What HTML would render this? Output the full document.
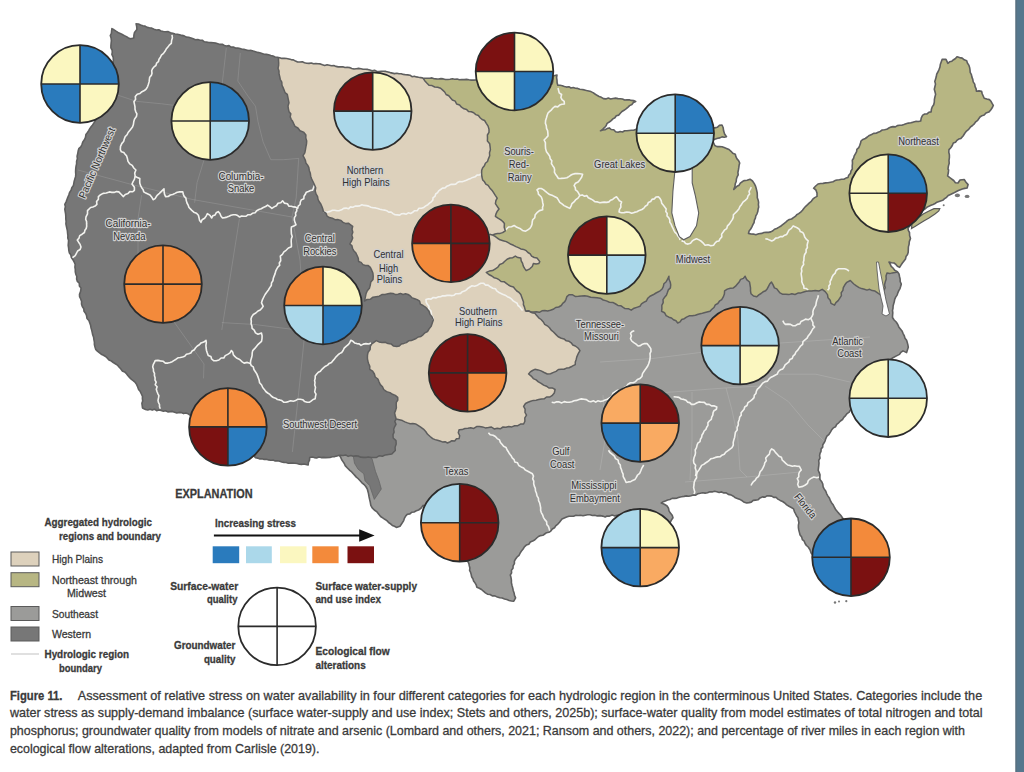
<!DOCTYPE html><html><head><meta charset="utf-8"><style>
html,body{margin:0;padding:0;background:#fff;width:1024px;height:772px;overflow:hidden}
svg{display:block}
.lb{font-family:"Liberation Sans",sans-serif;font-size:10.4px;fill:#303030;stroke:#d0d0d0;stroke-width:2.4px;paint-order:stroke;stroke-linejoin:round;text-anchor:middle}
.lg{font-family:"Liberation Sans",sans-serif;fill:#3a3a3a;stroke:#3a3a3a;stroke-width:0.3px}
.b{font-weight:bold}
</style></head><body>
<svg width="1024" height="772" viewBox="0 0 1024 772">
<defs><clipPath id="us"><path d="M111.9,28.6 L114.0,29.8 L116.0,31.2 L118.0,32.5 L120.2,33.4 L122.3,34.5 L124.4,35.6 L126.5,36.6 L128.4,37.9 L130.6,38.8 L133.8,38.0 L133.9,35.2 L134.5,32.5 L136.9,29.4 L136.7,26.6 L136.1,23.9 L138.5,24.0 L140.6,25.0 L142.8,25.7 L145.1,26.1 L147.1,27.4 L149.4,27.8 L151.8,28.1 L154.0,29.2 L156.3,30.0 L158.8,29.7 L161.0,31.0 L163.4,31.5 L165.7,31.8 L168.2,31.6 L170.5,32.7 L172.8,33.3 L175.0,34.0 L177.4,34.2 L179.7,34.7 L181.9,35.4 L184.2,35.9 L186.3,37.1 L188.7,37.2 L191.0,37.9 L193.2,38.7 L195.3,39.7 L197.8,39.5 L200.0,40.3 L202.3,40.2 L204.3,41.8 L206.6,42.1 L208.8,42.5 L211.1,42.6 L213.4,42.7 L215.6,43.1 L217.8,43.7 L220.0,44.4 L222.3,44.3 L224.4,45.5 L226.6,46.0 L229.0,45.6 L231.0,47.1 L233.3,47.1 L235.5,48.1 L237.8,48.0 L240.0,48.5 L242.1,49.3 L244.4,49.4 L246.6,50.1 L248.8,50.5 L251.1,50.4 L253.3,51.1 L255.5,51.7 L257.6,52.4 L259.8,52.8 L262.0,53.5 L264.2,54.2 L266.4,54.4 L268.6,54.8 L270.8,55.5 L273.0,56.0 L275.1,57.0 L277.4,57.3 L279.7,57.7 L281.9,58.4 L284.3,58.2 L286.6,58.5 L288.9,59.0 L291.1,59.6 L293.4,59.9 L295.5,61.1 L297.6,62.0 L300.0,62.0 L302.3,61.8 L304.5,62.8 L306.7,63.3 L309.0,63.4 L311.3,63.0 L313.5,63.8 L315.8,63.6 L318.0,63.8 L320.3,63.9 L322.5,64.8 L324.7,65.5 L327.1,64.8 L329.3,65.2 L331.5,65.7 L333.8,65.6 L336.0,66.4 L338.2,66.9 L340.5,66.9 L342.8,66.7 L345.0,67.5 L347.3,67.2 L349.6,67.6 L351.8,68.4 L354.0,69.0 L356.3,68.7 L358.6,68.4 L360.9,68.8 L363.1,69.3 L365.4,69.2 L367.7,69.4 L369.9,70.0 L372.1,70.7 L374.5,70.3 L376.6,71.3 L378.9,71.5 L381.2,71.2 L383.5,71.2 L385.8,71.4 L388.0,72.0 L390.2,72.6 L392.3,73.1 L394.5,73.6 L396.8,73.2 L399.0,73.8 L401.2,73.7 L403.4,74.4 L405.5,74.8 L407.8,74.9 L410.0,75.2 L412.0,76.7 L414.3,76.3 L416.4,76.9 L418.6,77.3 L420.8,77.6 L423.0,78.0 L425.2,78.2 L427.5,78.2 L429.8,78.3 L432.0,77.9 L434.2,78.7 L436.5,78.9 L438.7,79.0 L441.0,78.6 L443.3,78.9 L445.5,79.5 L447.7,79.5 L450.0,79.3 L452.4,78.8 L454.7,79.2 L457.1,79.1 L459.4,79.8 L461.8,79.5 L464.2,79.6 L466.6,79.4 L468.9,79.8 L471.3,80.1 L473.6,80.1 L476.0,80.0 L478.3,79.8 L480.5,80.1 L482.8,80.5 L485.1,80.0 L487.3,81.1 L489.6,80.2 L491.9,81.1 L494.2,80.6 L496.4,81.7 L498.7,81.6 L501.0,81.1 L503.2,81.6 L505.4,82.1 L507.7,82.3 L510.0,82.0 L512.3,82.4 L514.7,82.5 L517.0,82.8 L519.3,83.2 L521.7,82.8 L524.0,83.1 L526.3,83.5 L528.7,83.3 L531.0,83.2 L533.3,83.8 L535.7,83.7 L538.0,84.3 L540.3,84.5 L542.6,84.8 L545.0,84.5 L547.3,83.9 L549.6,83.6 L552.0,84.0 L552.8,81.4 L552.9,78.7 L553.0,76.0 L557.0,75.0 L556.6,77.6 L557.0,80.2 L557.1,82.8 L557.8,85.3 L560.1,85.3 L562.3,85.7 L564.4,86.5 L566.5,87.1 L568.9,86.7 L570.9,88.0 L573.3,87.5 L575.4,88.2 L577.7,88.4 L579.8,89.2 L582.1,89.5 L584.3,89.9 L586.5,90.5 L588.7,91.0 L590.9,91.6 L593.0,92.6 L595.0,94.0 L597.0,95.3 L599.1,96.5 L601.4,97.3 L603.4,98.6 L605.8,98.9 L608.3,98.1 L610.7,99.0 L613.1,98.5 L615.6,98.1 L618.0,98.6 L620.2,98.8 L622.5,99.0 L624.6,100.0 L626.9,99.9 L629.2,99.8 L631.3,100.4 L633.6,100.6 L635.7,101.5 L633.4,102.5 L631.9,104.5 L629.6,105.6 L627.8,107.3 L626.0,108.9 L624.0,110.3 L622.0,111.5 L620.3,113.2 L618.8,115.1 L616.3,115.7 L614.9,117.8 L612.9,118.9 L611.2,120.6 L609.3,122.0 L607.1,123.4 L606.1,125.8 L604.4,127.7 L602.6,129.4 L600.5,130.8 L602.7,130.0 L605.0,129.7 L607.1,128.6 L609.3,127.9 L611.2,129.5 L613.8,129.7 L615.6,131.7 L618.0,132.3 L620.2,131.5 L622.5,132.0 L624.6,130.8 L626.9,130.8 L629.1,130.5 L631.3,130.2 L633.6,130.3 L635.7,129.4 L637.9,128.9 L640.2,129.0 L642.2,127.7 L644.6,128.3 L646.7,127.4 L649.0,127.0 L651.3,127.2 L653.3,126.0 L655.6,125.9 L657.8,125.5 L660.0,125.0 L662.3,124.5 L664.6,124.1 L666.9,124.2 L669.2,123.8 L671.6,124.0 L673.8,123.5 L676.1,122.9 L678.5,123.4 L680.8,123.4 L683.1,122.8 L685.4,122.2 L687.7,122.0 L690.0,122.0 L692.1,123.1 L694.5,123.0 L696.7,123.9 L699.1,123.6 L701.2,125.0 L703.4,125.7 L705.8,125.5 L708.1,126.1 L710.2,127.0 L712.4,127.9 L714.8,127.9 L717.3,127.3 L719.4,125.4 L722.0,125.0 L723.2,127.8 L723.6,130.8 L724.6,134.0 L726.5,136.7 L724.3,137.2 L722.0,136.9 L719.9,137.9 L717.7,138.2 L714.7,139.2 L712.0,141.0 L713.7,143.1 L714.8,145.5 L717.0,146.6 L719.5,146.6 L722.0,146.7 L724.2,147.5 L726.5,148.4 L729.0,149.5 L731.0,151.3 L732.8,153.3 L735.3,154.3 L735.9,156.7 L737.0,158.9 L738.7,160.8 L739.7,163.0 L739.1,165.3 L738.8,167.7 L738.4,170.0 L737.9,172.4 L738.2,174.8 L737.1,176.9 L736.4,179.1 L736.2,181.5 L735.3,183.6 L734.9,186.6 L733.8,189.4 L735.4,187.9 L737.0,186.3 L739.1,185.2 L740.3,183.2 L742.1,181.8 L744.0,180.6 L747.1,180.2 L750.0,179.2 L752.5,181.0 L754.3,183.6 L755.4,185.8 L756.1,188.1 L756.7,190.5 L757.2,192.8 L757.3,195.3 L757.3,197.7 L758.1,199.9 L758.6,202.3 L758.4,204.7 L758.7,207.0 L758.1,209.3 L757.8,211.6 L757.0,213.8 L755.8,215.8 L755.4,218.1 L754.4,220.2 L754.1,222.5 L752.9,224.6 L751.9,226.8 L750.7,229.0 L749.1,231.0 L748.5,233.4 L750.9,234.0 L753.4,234.1 L755.8,234.8 L758.7,233.8 L761.7,233.4 L763.9,232.5 L766.1,232.2 L768.5,232.4 L770.8,231.9 L772.9,230.8 L774.5,229.2 L776.7,228.5 L778.6,227.4 L780.6,226.3 L782.3,224.9 L784.0,223.6 L785.8,222.2 L787.4,220.6 L789.3,219.5 L791.6,219.0 L793.4,217.7 L795.3,216.4 L796.7,214.7 L798.7,213.6 L800.7,212.1 L802.5,210.3 L804.0,208.2 L805.7,206.3 L807.6,204.6 L809.4,202.9 L811.3,201.3 L812.8,199.2 L814.7,197.6 L817.0,196.4 L817.0,193.1 L815.9,190.0 L813.6,188.2 L815.7,186.0 L818.0,184.0 L820.5,183.5 L823.0,183.4 L825.5,182.9 L828.0,182.8 L830.5,182.2 L833.0,181.8 L835.0,180.6 L837.1,180.0 L839.4,179.7 L841.5,179.2 L843.9,179.3 L845.9,178.1 L848.0,177.5 L848.7,175.2 L850.5,173.4 L851.0,171.0 L852.3,169.0 L852.2,166.1 L852.5,163.2 L852.3,160.3 L853.6,158.3 L854.2,155.9 L855.4,153.8 L856.6,151.7 L856.9,149.3 L858.8,147.6 L859.7,145.5 L860.5,143.3 L861.0,141.0 L862.9,139.4 L865.3,138.5 L867.3,137.0 L869.3,135.4 L871.6,134.5 L873.6,133.4 L876.1,133.3 L878.1,132.2 L880.2,131.4 L882.2,130.0 L884.5,129.7 L886.8,129.3 L888.8,128.0 L890.9,127.1 L893.0,126.6 L895.4,126.9 L897.3,125.6 L899.5,125.3 L901.8,125.3 L903.9,124.6 L906.0,123.8 L908.4,123.1 L910.9,122.7 L913.3,122.1 L915.7,121.4 L918.3,121.5 L920.7,121.0 L921.3,117.9 L922.7,115.1 L924.7,114.0 L927.0,113.9 L928.8,112.3 L931.1,111.9 L931.4,109.3 L932.2,106.9 L933.7,104.7 L934.3,102.2 L934.4,99.5 L934.9,97.0 L935.6,94.4 L935.0,91.8 L934.3,89.2 L934.9,86.7 L935.5,84.1 L934.8,81.4 L935.6,78.9 L936.3,76.6 L936.7,74.2 L937.9,72.0 L938.9,69.8 L939.9,67.3 L940.3,64.5 L941.2,62.0 L942.1,59.4 L946.0,59.4 L947.9,63.3 L949.6,61.8 L951.9,61.2 L953.6,59.7 L955.5,58.5 L957.0,56.8 L959.6,57.6 L962.2,58.1 L964.2,59.8 L966.7,60.7 L967.4,63.0 L968.8,65.1 L969.6,67.4 L970.0,69.8 L970.2,72.4 L971.4,74.6 L971.9,77.1 L972.8,79.4 L973.2,81.9 L974.7,84.1 L975.1,86.6 L976.1,88.8 L976.4,91.2 L979.0,90.9 L981.6,91.2 L982.2,93.7 L983.2,96.0 L984.2,98.3 L986.8,99.0 L989.4,99.6 L991.0,101.3 L992.1,103.4 L993.3,105.4 L992.2,107.8 L990.7,110.0 L988.8,112.1 L986.0,113.0 L984.2,115.1 L982.0,115.7 L980.0,117.0 L977.7,120.3 L975.7,121.8 L974.3,123.9 L972.5,125.5 L970.3,127.2 L968.7,129.4 L966.5,131.1 L964.8,133.3 L963.1,136.0 L960.9,138.4 L958.7,139.1 L956.9,140.4 L955.5,142.3 L953.3,143.0 L952.3,145.5 L950.8,147.7 L949.0,149.6 L948.8,152.3 L949.4,154.9 L949.4,157.6 L949.0,160.3 L949.2,163.3 L948.4,166.1 L948.0,169.0 L948.6,170.0 L948.3,173.0 L947.6,175.9 L949.5,177.4 L951.5,178.8 L953.7,180.5 L955.4,182.7 L958.0,183.0 L960.0,180.0 L964.2,179.5 L966.0,182.2 L968.1,184.6 L967.1,188.0 L964.7,188.4 L962.3,189.0 L958.4,190.5 L956.4,191.5 L953.5,193.1 L950.5,194.4 L948.2,195.4 L946.6,197.3 L944.6,198.7 L942.7,200.3 L939.8,201.2 L936.9,202.2 L935.1,203.5 L933.1,204.4 L931.0,205.2 L927.1,207.1 L925.0,209.0 L922.5,210.5 L920.4,212.5 L918.0,214.0 L916.9,216.3 L915.1,218.1 L913.5,220.0 L912.0,222.0 L911.0,224.2 L909.6,226.2 L908.0,228.0 L908.3,230.4 L909.5,232.5 L909.6,235.5 L910.5,238.4 L909.3,241.6 L909.1,244.3 L908.4,246.9 L908.3,249.6 L908.2,252.3 L907.5,254.6 L906.0,256.6 L905.5,259.0 L904.0,260.9 L902.4,263.0 L901.0,265.1 L899.6,267.3 L897.4,266.2 L895.9,264.4 L894.0,263.0 L891.4,262.8 L889.0,262.0 L890.2,264.1 L891.2,266.3 L893.0,268.0 L894.7,270.3 L897.4,271.6 L899.0,274.0 L899.5,276.5 L900.1,279.0 L900.2,281.6 L901.3,284.0 L900.7,286.3 L900.0,288.6 L898.8,290.7 L897.8,292.9 L897.1,295.1 L895.7,297.1 L894.7,299.3 L894.3,301.6 L893.7,303.8 L893.1,305.9 L893.0,308.2 L892.5,310.4 L892.8,312.8 L892.6,315.1 L892.5,317.5 L894.1,320.0 L896.2,322.0 L897.8,324.5 L898.8,326.9 L900.4,328.9 L902.0,330.9 L903.0,333.3 L904.2,335.6 L905.0,338.2 L906.6,340.3 L907.3,342.6 L907.9,344.9 L908.3,347.3 L907.4,349.9 L906.6,352.6 L903.0,350.9 L900.9,352.3 L899.5,354.4 L896.0,356.1 L892.5,358.0 L890.7,359.3 L889.1,360.9 L887.9,362.9 L886.0,364.1 L884.4,365.6 L883.1,367.4 L881.3,368.8 L880.1,370.7 L877.8,371.6 L876.4,373.3 L875.0,375.0 L873.5,376.7 L872.0,378.4 L870.7,380.3 L869.7,382.4 L868.1,384.0 L867.2,386.2 L865.3,387.6 L864.2,389.6 L862.7,391.3 L861.0,392.9 L860.0,395.0 L859.0,397.0 L857.9,399.0 L856.1,400.5 L855.4,402.8 L853.6,404.3 L852.4,406.2 L851.9,408.6 L850.3,410.2 L849.2,412.2 L847.1,413.6 L845.6,415.6 L843.8,417.4 L842.5,419.5 L840.4,421.0 L838.7,422.8 L836.7,424.3 L835.6,426.7 L833.3,427.9 L831.7,429.8 L830.4,432.1 L829.0,434.3 L826.9,436.2 L825.8,438.6 L825.1,440.8 L824.1,442.8 L822.8,444.7 L822.7,447.1 L821.1,448.9 L821.0,451.3 L820.0,453.3 L819.6,455.7 L820.0,458.2 L818.7,460.5 L819.0,463.0 L818.8,465.5 L818.5,467.9 L818.2,470.3 L819.2,472.6 L820.0,474.8 L819.9,477.2 L820.0,479.6 L821.7,481.7 L822.8,484.0 L823.1,486.8 L824.3,489.1 L825.8,491.3 L826.7,493.8 L828.0,496.1 L829.5,498.3 L830.4,500.7 L831.7,503.0 L833.3,505.1 L834.5,507.5 L835.8,509.8 L837.5,511.8 L839.1,513.6 L840.7,515.3 L842.1,517.2 L843.4,519.2 L844.7,521.3 L844.8,523.9 L845.9,526.1 L847.4,528.1 L848.6,530.3 L849.1,532.7 L850.0,535.0 L849.9,537.3 L850.6,539.5 L850.2,541.8 L850.9,544.1 L851.3,546.3 L850.7,548.7 L851.0,550.9 L851.6,553.2 L851.4,555.5 L852.0,557.7 L852.0,560.0 L850.5,561.8 L849.4,563.9 L848.3,566.0 L847.4,568.1 L845.9,569.9 L845.1,572.2 L843.1,573.7 L842.3,576.0 L840.9,577.8 L840.0,580.0 L837.7,579.8 L835.6,579.0 L833.5,578.0 L831.3,577.5 L829.2,576.6 L827.2,575.6 L825.0,575.0 L824.0,572.8 L822.1,571.2 L821.4,568.9 L819.6,567.2 L818.9,564.8 L817.8,562.7 L816.4,560.8 L814.7,559.0 L813.5,557.0 L812.6,554.8 L811.1,552.9 L810.0,549.8 L808.2,547.0 L806.4,545.5 L805.1,543.5 L804.2,541.2 L802.4,539.7 L801.7,537.1 L800.1,535.0 L799.4,532.4 L798.8,530.0 L798.4,527.6 L798.4,525.1 L798.9,522.6 L798.3,520.1 L798.0,517.7 L796.5,515.7 L795.4,513.5 L794.3,511.3 L793.6,508.9 L791.3,507.5 L789.0,506.3 L786.7,504.9 L784.8,503.0 L782.6,501.5 L780.2,500.4 L777.9,499.1 L776.0,497.2 L773.7,497.4 L771.7,496.1 L769.4,495.9 L767.2,495.7 L765.1,497.1 L762.3,496.9 L760.0,497.9 L758.0,499.8 L755.5,500.1 L753.2,500.4 L751.3,502.1 L749.0,502.6 L746.7,503.0 L744.3,502.3 L742.3,500.8 L740.2,499.6 L737.9,498.7 L735.4,497.8 L733.3,496.2 L731.0,494.9 L728.3,494.4 L726.2,492.8 L723.8,492.9 L721.6,491.9 L719.1,492.5 L716.8,491.8 L714.5,491.3 L712.2,491.9 L709.8,491.8 L707.5,492.8 L705.1,493.1 L702.7,492.8 L700.3,493.3 L698.0,493.7 L695.8,495.1 L693.3,495.0 L691.0,495.7 L688.7,496.3 L686.3,495.9 L684.0,496.4 L681.6,496.7 L679.3,497.2 L677.0,498.1 L674.6,498.4 L672.1,498.4 L669.9,499.5 L667.6,500.1 L665.4,500.9 L663.3,501.7 L661.3,503.0 L664.3,504.3 L667.1,506.0 L668.5,508.2 L669.0,510.9 L670.4,513.1 L672.2,515.2 L673.0,517.7 L671.6,519.7 L670.5,521.9 L668.8,523.7 L667.5,525.8 L666.0,527.7 L665.0,530.0 L662.7,529.9 L660.5,530.4 L658.2,530.0 L655.9,530.5 L653.6,530.0 L651.4,530.1 L649.1,530.2 L646.8,530.3 L644.5,530.4 L642.3,530.3 L640.0,530.0 L638.3,528.5 L636.1,527.6 L634.5,525.9 L633.1,524.1 L631.2,522.7 L629.3,521.6 L627.3,520.4 L625.5,519.0 L623.6,517.7 L622.1,516.0 L620.0,515.0 L617.4,515.3 L614.8,515.9 L612.2,515.1 L609.6,516.1 L607.0,516.0 L605.2,517.0 L602.7,516.1 L600.0,515.6 L597.3,515.9 L594.7,515.2 L592.4,515.5 L590.0,514.8 L587.7,514.7 L585.3,515.2 L583.0,515.7 L580.6,515.2 L578.3,515.5 L575.9,515.3 L573.6,516.3 L571.2,516.2 L568.9,516.2 L566.6,517.0 L564.3,518.0 L562.0,519.0 L559.5,522.2 L557.9,524.1 L555.9,525.6 L554.5,527.7 L552.3,529.0 L550.8,531.0 L548.9,532.3 L546.6,532.7 L544.7,534.0 L542.9,535.3 L540.5,535.6 L538.5,536.5 L536.7,538.0 L534.9,539.8 L532.7,541.1 L530.3,542.0 L528.8,544.2 L526.3,545.1 L524.4,546.8 L523.1,549.0 L521.5,550.9 L520.2,553.0 L519.0,555.3 L517.1,557.0 L515.6,559.0 L514.4,561.1 L514.4,563.7 L513.1,565.8 L513.0,568.3 L511.4,570.3 L511.6,572.9 L510.3,575.0 L511.0,577.5 L511.4,580.2 L511.4,582.8 L512.0,585.4 L512.7,587.9 L513.2,590.4 L514.1,592.9 L514.5,595.4 L515.6,597.8 L513.8,601.2 L511.4,601.0 L509.1,600.4 L506.8,599.5 L504.5,598.9 L502.2,598.0 L499.8,597.8 L497.3,597.1 L495.0,595.9 L492.3,595.9 L490.1,594.5 L487.5,594.2 L485.4,592.8 L483.4,591.2 L481.5,589.5 L479.3,588.2 L476.9,587.2 L476.2,584.9 L475.0,582.9 L473.6,581.0 L472.9,578.7 L471.6,576.7 L471.2,574.5 L470.6,572.4 L469.6,570.4 L469.9,568.0 L469.3,565.9 L468.9,563.7 L467.9,561.7 L466.9,559.6 L465.8,557.6 L465.0,555.4 L464.4,553.1 L462.8,551.3 L461.8,549.2 L461.2,547.0 L460.0,545.0 L459.0,542.8 L457.3,541.3 L456.0,539.4 L454.2,537.9 L452.5,536.4 L451.8,534.0 L450.0,532.5 L448.7,530.6 L446.9,529.1 L446.0,526.9 L444.0,525.6 L442.9,523.5 L441.8,521.5 L440.0,520.0 L438.5,518.3 L436.3,517.5 L435.2,515.3 L433.6,513.7 L431.9,512.3 L429.7,511.4 L427.8,510.2 L426.6,508.2 L425.0,506.6 L423.2,505.3 L421.2,508.0 L418.6,510.0 L416.3,510.8 L414.1,512.0 L411.6,512.3 L409.9,513.9 L407.5,514.2 L405.8,515.8 L404.5,518.1 L403.7,520.6 L402.3,522.8 L400.0,526.2 L396.4,527.4 L394.5,526.2 L392.3,525.4 L390.6,523.9 L388.6,522.5 L386.9,520.6 L384.8,519.3 L382.7,517.9 L380.6,516.5 L379.0,514.6 L377.0,511.9 L374.3,510.0 L372.2,507.9 L370.8,505.3 L370.3,502.3 L369.6,499.4 L369.0,496.5 L368.5,493.6 L367.9,491.3 L367.3,489.0 L365.8,486.5 L363.8,484.3 L361.7,482.6 L359.9,480.5 L358.0,478.5 L356.3,477.1 L354.8,475.4 L353.3,473.8 L351.7,471.9 L349.8,470.3 L347.4,468.0 L345.2,465.6 L344.3,463.5 L343.0,461.6 L341.7,459.8 L340.7,457.4 L339.3,455.2 L337.0,455.9 L334.7,456.6 L332.3,456.8 L330.0,457.5 L325.8,457.6 L323.5,457.4 L321.2,457.6 L318.9,457.0 L316.6,458.0 L314.3,457.6 L312.0,457.0 L309.7,457.6 L309.5,460.1 L308.4,462.5 L308.2,465.0 L306.0,464.5 L303.9,464.0 L301.6,464.4 L299.4,464.2 L297.2,463.5 L295.0,463.2 L292.8,463.1 L290.6,463.0 L288.3,463.2 L286.2,462.5 L284.0,462.4 L281.8,462.0 L279.7,461.3 L277.5,460.7 L275.2,460.9 L273.1,460.1 L270.8,460.3 L268.6,459.9 L266.5,459.2 L264.2,459.4 L262.1,458.7 L259.8,458.9 L257.7,458.1 L255.5,457.6 L253.9,456.0 L252.2,454.6 L249.9,454.1 L248.3,452.5 L246.4,451.3 L244.3,450.5 L242.5,449.1 L241.0,447.4 L238.9,446.7 L237.5,444.7 L235.7,443.4 L233.5,442.7 L231.5,441.7 L230.0,440.0 L227.8,439.2 L226.0,437.9 L224.6,435.9 L222.6,434.9 L220.9,433.3 L218.8,432.4 L217.1,431.0 L215.0,430.1 L213.2,428.6 L211.5,427.1 L209.1,426.6 L207.2,425.4 L205.3,424.2 L203.7,422.6 L201.7,421.5 L200.0,420.0 L197.9,419.2 L196.0,418.0 L194.0,416.8 L192.0,415.8 L189.9,415.0 L188.0,413.7 L185.8,413.0 L183.5,413.6 L181.3,412.6 L179.1,412.4 L176.8,413.0 L174.6,412.3 L172.4,411.4 L170.1,411.6 L167.8,411.9 L165.7,410.8 L163.4,411.3 L161.2,410.6 L159.0,410.0 L156.6,410.7 L154.5,409.2 L152.2,410.1 L150.0,409.3 L147.8,410.0 L145.5,409.5 L142.5,408.0 L142.2,405.7 L141.9,403.3 L142.7,401.0 L142.4,398.6 L142.5,396.3 L141.4,394.0 L140.3,391.6 L138.6,389.5 L137.7,387.0 L136.7,384.6 L135.3,382.5 L133.5,380.8 L131.5,379.3 L129.7,377.6 L128.0,375.8 L126.5,373.8 L124.7,371.9 L122.2,370.9 L120.7,368.8 L119.0,367.0 L117.4,365.1 L115.3,363.8 L113.3,362.5 L111.4,361.0 L109.0,360.1 L107.4,358.2 L105.6,356.5 L103.5,355.2 L101.2,354.2 L99.3,352.7 L97.4,351.1 L95.7,349.4 L95.0,347.0 L94.4,344.6 L94.4,342.1 L93.9,339.6 L93.6,337.2 L92.7,334.8 L92.2,332.4 L91.7,330.1 L91.0,327.7 L90.6,325.3 L89.8,323.0 L88.9,320.5 L87.0,318.5 L86.6,315.8 L85.7,313.4 L84.0,311.3 L83.8,308.7 L82.3,306.5 L81.5,304.1 L81.6,301.4 L80.7,299.0 L79.6,296.7 L79.5,294.4 L80.3,292.4 L80.8,290.2 L81.0,288.0 L79.4,286.0 L79.3,283.3 L77.4,281.4 L76.6,279.0 L76.8,276.5 L75.8,274.2 L75.3,271.8 L75.3,269.4 L74.9,267.0 L75.2,264.5 L74.2,262.0 L72.9,259.7 L71.4,257.6 L70.8,254.9 L69.3,252.7 L68.8,250.3 L68.6,247.8 L68.2,245.4 L68.4,242.9 L68.6,240.4 L67.8,238.0 L67.9,235.6 L67.6,233.3 L67.4,230.9 L66.9,228.6 L66.4,226.3 L65.9,223.8 L66.1,221.3 L65.8,218.8 L65.8,216.3 L65.6,213.8 L65.2,211.5 L64.8,209.1 L65.4,206.7 L64.8,204.4 L66.0,202.1 L66.9,199.7 L67.8,197.3 L68.8,195.0 L69.6,192.5 L71.1,190.3 L71.8,187.7 L73.4,185.6 L73.8,183.4 L74.2,181.2 L74.8,179.1 L75.5,176.9 L75.8,174.7 L75.6,171.9 L75.7,169.2 L76.0,166.5 L76.6,163.8 L76.6,161.3 L77.4,158.8 L77.1,156.3 L77.7,153.8 L78.1,151.3 L78.8,148.7 L80.8,146.8 L82.0,144.5 L82.8,141.9 L84.4,139.8 L85.5,137.4 L85.9,134.6 L87.5,132.5 L88.7,130.6 L89.8,128.6 L91.1,126.8 L92.6,125.0 L93.8,123.1 L95.2,121.1 L96.2,118.9 L96.5,116.4 L98.1,114.5 L99.4,112.4 L100.0,110.0 L100.8,107.8 L101.0,105.5 L102.3,103.4 L102.2,101.0 L103.0,98.8 L103.4,96.5 L104.5,94.4 L105.3,92.2 L106.0,90.0 L106.8,87.8 L106.8,85.4 L107.2,83.1 L108.3,81.0 L108.4,78.6 L109.7,76.5 L110.1,74.2 L110.4,71.9 L111.2,69.7 L111.2,67.3 L112.4,65.1 L112.9,62.9 L113.4,60.6 L113.2,57.4 L111.9,54.4 L112.3,52.2 L112.1,50.0 L110.9,47.8 L110.9,45.6 L111.1,43.4 L111.4,40.7 L111.1,38.1 L110.3,35.6 L111.4,33.4 L111.6,31.0 Z"/></clipPath></defs>

<g clip-path="url(#us)">
<rect x="0" y="0" width="1024" height="700" fill="#777777"/>
<path d="M423.0,20.0 L423.0,74.0 L423.0,78.0 L424.7,80.7 L426.8,83.0 L429.0,85.3 L432.0,85.6 L434.7,87.0 L437.7,87.3 L440.6,88.2 L442.7,90.1 L444.7,92.0 L446.1,94.5 L448.8,95.8 L450.6,97.9 L452.4,100.0 L455.2,101.1 L456.6,104.0 L459.6,105.0 L461.5,107.2 L464.0,108.8 L466.6,109.4 L468.5,111.6 L471.3,111.8 L473.7,112.8 L475.8,114.6 L478.4,115.5 L480.1,117.7 L482.1,119.5 L484.6,120.5 L486.3,123.3 L488.1,126.1 L489.0,129.3 L489.0,132.3 L487.4,135.0 L487.5,138.0 L487.4,141.1 L489.7,143.7 L490.1,146.8 L490.4,149.8 L489.5,152.7 L489.7,155.8 L488.5,158.6 L487.5,161.5 L485.4,163.3 L484.4,165.8 L482.7,167.8 L481.7,170.3 L481.6,173.6 L481.9,176.8 L482.7,180.0 L484.5,181.8 L485.8,184.1 L488.1,185.4 L489.8,187.9 L491.9,190.2 L493.6,192.7 L495.3,195.4 L497.2,198.1 L495.9,200.7 L495.4,203.6 L497.2,206.3 L499.0,209.0 L497.3,211.2 L496.1,213.6 L495.4,216.3 L498.0,218.2 L500.8,219.9 L502.8,221.5 L504.4,223.5 L504.2,227.2 L505.3,230.8 L502.6,232.6 L500.1,233.4 L497.6,233.4 L495.1,234.0 L492.6,234.9 L490.0,234.4 L492.6,235.1 L495.1,236.3 L497.2,238.0 L500.0,239.8 L503.1,240.7 L506.3,241.6 L508.6,242.9 L511.0,244.3 L513.5,245.3 L515.9,246.6 L518.4,247.6 L520.8,248.9 L523.6,249.4 L526.2,250.7 L528.0,252.5 L530.2,253.9 L531.6,256.1 L534.2,257.5 L537.0,258.0 L539.8,261.6 L538.9,263.4 L536.1,263.9 L533.4,263.4 L532.3,266.5 L529.8,268.8 L526.2,270.6 L524.6,268.4 L523.3,266.1 L522.6,263.4 L521.2,260.9 L520.8,258.0 L517.9,257.6 L515.3,256.1 L512.8,257.7 L509.9,258.0 L507.1,259.3 L504.8,261.3 L502.6,263.4 L499.7,264.5 L497.9,267.2 L495.4,268.8 L492.6,270.6 L489.3,271.1 L486.3,272.4 L488.8,274.5 L491.8,276.0 L494.0,277.7 L496.6,278.4 L499.0,279.7 L501.1,281.5 L504.1,281.7 L506.3,283.3 L508.5,285.0 L510.8,286.3 L513.5,287.0 L515.0,289.1 L516.8,291.0 L519.0,292.4 L520.8,294.5 L521.7,297.1 L522.6,299.6 L523.5,302.0 L523.4,304.6 L524.4,306.9 L525.6,311.3 L525.6,311.3 L528.3,310.7 L531.0,311.9 L533.7,311.9 L536.4,311.8 L539.3,312.3 L542.0,310.8 L544.8,310.4 L547.6,310.9 L550.4,310.2 L553.2,309.3 L555.7,307.5 L558.7,307.0 L561.3,305.5 L562.7,303.3 L564.8,301.7 L566.0,299.3 L566.9,296.6 L569.0,294.7 L572.2,294.7 L575.2,296.4 L578.4,296.2 L581.5,295.9 L584.6,295.8 L587.7,296.2 L590.7,297.3 L593.9,297.5 L597.0,297.8 L600.3,298.2 L603.2,300.0 L606.4,300.9 L609.4,302.2 L612.8,302.4 L615.7,304.0 L617.9,305.4 L620.7,305.7 L622.8,307.2 L625.0,308.6 L628.3,308.7 L631.2,310.2 L634.1,308.2 L637.5,307.1 L640.1,306.2 L641.5,303.8 L643.7,302.4 L646.4,301.0 L647.8,298.2 L650.0,296.2 L653.1,294.8 L656.0,293.0 L660.1,290.8 L662.1,289.0 L663.3,286.6 L663.9,283.8 L666.0,282.0 L667.6,279.2 L668.9,276.2 L669.0,279.2 L670.2,282.0 L670.7,284.9 L670.4,287.9 L668.3,289.9 L667.4,292.6 L666.4,295.2 L664.6,297.3 L663.0,299.6 L663.2,302.6 L661.8,305.4 L661.9,308.4 L661.6,311.3 L664.5,312.7 L666.1,315.7 L668.9,317.2 L671.5,318.0 L673.5,319.8 L676.0,320.8 L677.7,323.0 L680.1,321.9 L681.7,319.5 L684.3,318.7 L686.5,317.2 L689.2,315.8 L692.3,315.7 L695.4,315.3 L698.2,314.3 L701.2,313.6 L704.1,312.7 L707.0,312.0 L710.0,311.3 L711.9,309.3 L714.0,307.5 L715.3,304.9 L717.8,303.5 L719.4,301.2 L721.7,299.6 L723.3,296.9 L724.4,294.0 L724.6,290.8 L727.3,289.1 L730.3,288.3 L733.4,287.9 L735.6,286.2 L737.4,284.1 L739.2,282.0 L740.6,279.4 L743.4,278.4 L745.1,276.2 L746.7,279.6 L749.5,282.0 L750.0,284.9 L750.5,287.9 L750.5,290.9 L751.0,293.8 L753.5,296.0 L756.8,296.7 L758.8,294.9 L761.0,293.5 L763.1,291.8 L765.6,290.8 L767.3,288.7 L768.5,286.4 L769.7,284.0 L771.5,282.0 L773.1,284.9 L774.4,287.9 L776.8,288.9 L778.4,291.0 L780.0,292.9 L782.8,294.3 L785.8,294.2 L788.8,294.6 L791.8,293.8 L795.0,294.5 L797.9,293.1 L801.0,292.9 L803.6,292.0 L806.2,291.2 L808.8,290.9 L811.6,291.1 L815.2,290.6 L818.7,291.1 L822.2,289.3 L825.2,291.6 L827.5,294.6 L828.0,297.8 L830.2,300.3 L831.0,303.4 L834.5,305.2 L835.9,302.6 L838.2,300.6 L839.8,298.1 L841.4,295.7 L841.2,292.7 L842.9,290.4 L843.3,287.6 L844.9,284.8 L846.8,282.3 L850.3,280.5 L853.8,284.0 L856.4,285.9 L859.1,287.6 L861.7,288.6 L864.4,289.3 L867.0,290.1 L869.6,289.3 L872.2,290.6 L875.0,291.1 L877.6,292.9 L880.2,294.6 L883.7,298.1 L884.5,295.5 L883.8,292.8 L884.0,290.2 L885.2,287.7 L884.5,285.0 L885.2,282.0 L886.2,279.1 L886.0,275.9 L887.0,273.0 L889.7,273.6 L892.3,272.9 L895.0,272.5 L897.5,271.9 L900.0,273.0 L902.5,272.1 L905.0,272.0 L1010.0,270.0 L1010.0,20.0 Z" fill="#b7b683"/>
<path d="M396.2,419.0 L399.3,419.8 L402.4,420.6 L404.9,421.9 L407.5,422.9 L410.2,423.7 L412.9,423.6 L415.6,423.9 L418.0,425.3 L420.7,427.2 L423.4,429.1 L425.7,431.5 L427.6,434.3 L430.1,436.5 L432.7,438.6 L435.1,439.6 L437.5,440.3 L440.0,441.0 L442.4,441.9 L445.1,441.7 L447.4,443.0 L449.7,442.0 L451.9,440.7 L454.7,441.0 L456.5,438.7 L459.1,438.6 L459.7,435.7 L458.3,432.7 L459.1,429.8 L462.1,429.6 L464.9,428.5 L467.9,428.3 L470.8,427.8 L473.8,428.4 L476.6,426.6 L479.5,426.4 L482.5,426.9 L485.4,427.9 L488.4,427.5 L491.4,427.0 L494.2,428.9 L497.2,428.3 L500.2,428.8 L503.0,427.0 L505.9,427.3 L508.8,426.5 L511.8,426.9 L514.7,425.8 L517.8,425.7 L520.5,424.1 L523.6,424.0 L524.9,421.2 L524.8,417.9 L526.5,415.2 L525.0,412.5 L525.1,409.2 L523.6,406.4 L525.5,403.5 L528.0,402.3 L530.6,401.3 L533.3,400.4 L536.1,400.2 L538.7,399.6 L541.4,399.0 L544.2,398.8 L546.5,397.0 L549.6,397.1 L552.0,395.7 L554.3,393.0 L555.1,389.5 L552.2,387.9 L548.9,388.0 L546.5,386.2 L543.6,385.1 L541.1,383.3 L538.4,381.9 L536.1,379.9 L533.3,378.6 L531.2,376.1 L528.6,374.0 L530.3,371.9 L532.5,370.5 L534.9,369.3 L538.1,369.9 L541.1,370.9 L544.2,372.5 L547.3,374.0 L550.5,373.7 L553.5,372.4 L556.1,371.4 L558.4,369.5 L561.3,369.3 L564.0,369.3 L566.5,368.1 L569.1,367.7 L572.2,366.2 L575.3,364.6 L575.3,361.9 L576.2,359.4 L576.8,356.9 L578.2,353.7 L580.0,350.6 L578.0,348.0 L575.3,346.0 L572.8,345.0 L571.2,342.8 L569.1,341.3 L566.3,340.8 L564.0,338.9 L561.3,338.2 L558.2,336.8 L555.8,334.4 L553.5,332.0 L551.2,330.1 L549.5,327.7 L547.3,325.8 L544.7,324.3 L543.1,321.7 L541.1,319.5 L538.7,317.8 L536.7,315.6 L534.9,313.3 L531.8,312.7 L528.9,311.2 L525.6,311.3 L525.6,311.3 L528.3,310.7 L531.0,311.9 L533.7,311.9 L536.4,311.8 L539.3,312.3 L542.0,310.8 L544.8,310.4 L547.6,310.9 L550.4,310.2 L553.2,309.3 L555.7,307.5 L558.7,307.0 L561.3,305.5 L562.7,303.3 L564.8,301.7 L566.0,299.3 L566.9,296.6 L569.0,294.7 L572.2,294.7 L575.2,296.4 L578.4,296.2 L581.5,295.9 L584.6,295.8 L587.7,296.2 L590.7,297.3 L593.9,297.5 L597.0,297.8 L600.3,298.2 L603.2,300.0 L606.4,300.9 L609.4,302.2 L612.8,302.4 L615.7,304.0 L617.9,305.4 L620.7,305.7 L622.8,307.2 L625.0,308.6 L628.3,308.7 L631.2,310.2 L634.1,308.2 L637.5,307.1 L640.1,306.2 L641.5,303.8 L643.7,302.4 L646.4,301.0 L647.8,298.2 L650.0,296.2 L653.1,294.8 L656.0,293.0 L660.1,290.8 L662.1,289.0 L663.3,286.6 L663.9,283.8 L666.0,282.0 L667.6,279.2 L668.9,276.2 L669.0,279.2 L670.2,282.0 L670.7,284.9 L670.4,287.9 L668.3,289.9 L667.4,292.6 L666.4,295.2 L664.6,297.3 L663.0,299.6 L663.2,302.6 L661.8,305.4 L661.9,308.4 L661.6,311.3 L664.5,312.7 L666.1,315.7 L668.9,317.2 L671.5,318.0 L673.5,319.8 L676.0,320.8 L677.7,323.0 L680.1,321.9 L681.7,319.5 L684.3,318.7 L686.5,317.2 L689.2,315.8 L692.3,315.7 L695.4,315.3 L698.2,314.3 L701.2,313.6 L704.1,312.7 L707.0,312.0 L710.0,311.3 L711.9,309.3 L714.0,307.5 L715.3,304.9 L717.8,303.5 L719.4,301.2 L721.7,299.6 L723.3,296.9 L724.4,294.0 L724.6,290.8 L727.3,289.1 L730.3,288.3 L733.4,287.9 L735.6,286.2 L737.4,284.1 L739.2,282.0 L740.6,279.4 L743.4,278.4 L745.1,276.2 L746.7,279.6 L749.5,282.0 L750.0,284.9 L750.5,287.9 L750.5,290.9 L751.0,293.8 L753.5,296.0 L756.8,296.7 L758.8,294.9 L761.0,293.5 L763.1,291.8 L765.6,290.8 L767.3,288.7 L768.5,286.4 L769.7,284.0 L771.5,282.0 L773.1,284.9 L774.4,287.9 L776.8,288.9 L778.4,291.0 L780.0,292.9 L782.8,294.3 L785.8,294.2 L788.8,294.6 L791.8,293.8 L795.0,294.5 L797.9,293.1 L801.0,292.9 L803.6,292.0 L806.2,291.2 L808.8,290.9 L811.6,291.1 L815.2,290.6 L818.7,291.1 L822.2,289.3 L825.2,291.6 L827.5,294.6 L828.0,297.8 L830.2,300.3 L831.0,303.4 L834.5,305.2 L835.9,302.6 L838.2,300.6 L839.8,298.1 L841.4,295.7 L841.2,292.7 L842.9,290.4 L843.3,287.6 L844.9,284.8 L846.8,282.3 L850.3,280.5 L853.8,284.0 L856.4,285.9 L859.1,287.6 L861.7,288.6 L864.4,289.3 L867.0,290.1 L869.6,289.3 L872.2,290.6 L875.0,291.1 L877.6,292.9 L880.2,294.6 L883.7,298.1 L884.5,295.5 L883.8,292.8 L884.0,290.2 L885.2,287.7 L884.5,285.0 L885.2,282.0 L886.2,279.1 L886.0,275.9 L887.0,273.0 L889.7,273.6 L892.3,272.9 L895.0,272.5 L897.5,271.9 L900.0,273.0 L902.5,272.1 L905.0,272.0 L1010.0,270.0 L1010.0,660.0 L300.0,660.0 L300.0,470.0 L338.0,457.0 L340.5,455.2 L343.1,455.4 L345.7,454.9 L348.1,456.4 L350.8,455.5 L353.3,456.3 L355.8,455.8 L358.3,456.0 L360.8,457.3 L363.3,457.4 L365.8,457.6 L368.3,457.0 L370.8,457.5 L373.7,457.5 L376.6,457.4 L379.4,455.7 L382.4,456.3 L385.4,454.9 L388.6,454.4 L391.8,454.0 L395.3,450.5 L395.1,447.2 L396.2,444.0 L396.0,440.6 L393.2,438.0 L393.0,434.6 L394.1,432.1 L393.7,429.3 L394.6,426.8 L396.0,424.4 L394.8,421.4 L396.2,419.0 Z" fill="#9b9b99"/>
<path d="M279.0,20.0 L278.5,56.0 L278.5,60.4 L278.7,63.0 L278.6,65.7 L278.0,68.3 L279.0,71.0 L279.0,73.6 L279.7,76.5 L280.3,79.5 L281.8,82.2 L282.0,85.3 L283.1,87.6 L284.1,90.1 L285.0,92.6 L287.3,94.3 L287.8,97.0 L288.4,99.9 L289.0,102.8 L288.0,105.9 L288.4,108.8 L289.0,111.7 L290.8,113.8 L290.2,116.9 L291.2,119.3 L292.7,121.5 L293.8,123.9 L295.0,126.3 L297.9,128.0 L300.0,130.7 L303.5,132.1 L305.9,135.0 L305.8,137.9 L306.7,140.9 L306.5,143.9 L305.9,146.8 L305.4,149.9 L304.8,152.9 L303.0,155.6 L304.2,157.9 L305.4,160.3 L305.9,163.0 L307.6,165.1 L308.8,167.4 L309.3,170.4 L310.3,173.2 L310.7,176.2 L311.7,179.0 L313.2,182.0 L314.6,185.0 L315.7,187.8 L315.2,191.0 L316.0,193.9 L317.6,196.6 L318.0,199.3 L319.2,201.8 L320.8,204.0 L321.9,206.5 L322.8,209.0 L323.4,211.7 L325.9,213.1 L327.0,216.0 L329.3,217.6 L332.3,218.2 L335.0,219.7 L338.1,219.6 L341.0,220.5 L343.0,222.4 L345.4,223.4 L348.4,223.2 L350.6,224.8 L352.7,226.4 L352.0,229.3 L352.8,232.2 L351.8,235.1 L352.7,238.0 L351.4,241.1 L349.8,244.0 L351.9,245.7 L352.6,248.5 L353.8,250.8 L355.7,252.7 L357.1,255.5 L358.3,258.3 L358.6,261.5 L361.1,262.4 L362.9,264.6 L365.4,265.5 L368.3,265.6 L370.3,267.4 L371.7,270.2 L372.9,273.0 L373.2,276.2 L373.0,279.4 L370.8,281.9 L370.3,285.0 L369.4,288.2 L367.3,290.8 L366.0,293.8 L365.3,297.4 L364.5,301.0 L367.2,299.4 L370.5,299.2 L373.0,297.2 L376.2,296.7 L379.2,296.2 L381.9,294.6 L385.0,294.4 L388.0,293.8 L390.5,293.3 L393.0,293.4 L395.5,294.6 L398.0,294.3 L400.5,293.4 L403.0,294.5 L405.5,293.8 L408.1,294.5 L410.3,295.9 L412.2,297.9 L414.7,298.7 L417.2,299.6 L419.6,301.1 L420.4,304.2 L423.0,305.5 L425.4,307.1 L427.3,309.1 L429.0,311.3 L430.0,314.4 L432.1,317.0 L433.3,320.1 L432.2,323.2 L431.1,326.4 L429.0,329.0 L427.5,331.5 L424.9,332.8 L423.0,334.8 L420.9,336.4 L418.2,337.0 L416.1,338.5 L413.7,339.5 L411.3,340.6 L408.6,340.8 L406.4,342.6 L403.9,343.4 L401.3,343.9 L399.3,346.0 L396.7,346.5 L393.6,346.1 L391.1,343.9 L388.0,343.6 L385.2,342.3 L382.0,342.5 L379.0,341.9 L376.2,340.6 L373.9,342.3 L371.7,344.0 L370.3,346.5 L370.1,349.6 L368.1,352.2 L367.5,355.1 L367.4,358.2 L367.8,361.0 L368.7,363.7 L369.8,366.4 L369.7,369.3 L372.6,371.1 L374.4,374.0 L375.2,377.0 L377.9,379.0 L379.0,381.8 L380.3,384.6 L382.5,386.7 L383.7,389.5 L386.6,391.6 L390.0,392.6 L392.5,394.3 L395.3,395.4 L397.7,397.3 L397.8,400.0 L396.3,402.4 L396.2,405.0 L396.4,407.8 L395.6,410.4 L394.6,412.9 L395.3,416.0 L396.2,419.0 L396.2,419.0 L399.3,419.8 L402.4,420.6 L404.9,421.9 L407.5,422.9 L410.2,423.7 L412.9,423.6 L415.6,423.9 L418.0,425.3 L420.7,427.2 L423.4,429.1 L425.7,431.5 L427.6,434.3 L430.1,436.5 L432.7,438.6 L435.1,439.6 L437.5,440.3 L440.0,441.0 L442.4,441.9 L445.1,441.7 L447.4,443.0 L449.7,442.0 L451.9,440.7 L454.7,441.0 L456.5,438.7 L459.1,438.6 L459.7,435.7 L458.3,432.7 L459.1,429.8 L462.1,429.6 L464.9,428.5 L467.9,428.3 L470.8,427.8 L473.8,428.4 L476.6,426.6 L479.5,426.4 L482.5,426.9 L485.4,427.9 L488.4,427.5 L491.4,427.0 L494.2,428.9 L497.2,428.3 L500.2,428.8 L503.0,427.0 L505.9,427.3 L508.8,426.5 L511.8,426.9 L514.7,425.8 L517.8,425.7 L520.5,424.1 L523.6,424.0 L524.9,421.2 L524.8,417.9 L526.5,415.2 L525.0,412.5 L525.1,409.2 L523.6,406.4 L525.5,403.5 L528.0,402.3 L530.6,401.3 L533.3,400.4 L536.1,400.2 L538.7,399.6 L541.4,399.0 L544.2,398.8 L546.5,397.0 L549.6,397.1 L552.0,395.7 L554.3,393.0 L555.1,389.5 L552.2,387.9 L548.9,388.0 L546.5,386.2 L543.6,385.1 L541.1,383.3 L538.4,381.9 L536.1,379.9 L533.3,378.6 L531.2,376.1 L528.6,374.0 L530.3,371.9 L532.5,370.5 L534.9,369.3 L538.1,369.9 L541.1,370.9 L544.2,372.5 L547.3,374.0 L550.5,373.7 L553.5,372.4 L556.1,371.4 L558.4,369.5 L561.3,369.3 L564.0,369.3 L566.5,368.1 L569.1,367.7 L572.2,366.2 L575.3,364.6 L575.3,361.9 L576.2,359.4 L576.8,356.9 L578.2,353.7 L580.0,350.6 L578.0,348.0 L575.3,346.0 L572.8,345.0 L571.2,342.8 L569.1,341.3 L566.3,340.8 L564.0,338.9 L561.3,338.2 L558.2,336.8 L555.8,334.4 L553.5,332.0 L551.2,330.1 L549.5,327.7 L547.3,325.8 L544.7,324.3 L543.1,321.7 L541.1,319.5 L538.7,317.8 L536.7,315.6 L534.9,313.3 L531.8,312.7 L528.9,311.2 L525.6,311.3 L525.6,311.3 L524.4,306.9 L523.4,304.6 L523.5,302.0 L522.6,299.6 L521.7,297.1 L520.8,294.5 L519.0,292.4 L516.8,291.0 L515.0,289.1 L513.5,287.0 L510.8,286.3 L508.5,285.0 L506.3,283.3 L504.1,281.7 L501.1,281.5 L499.0,279.7 L496.6,278.4 L494.0,277.7 L491.8,276.0 L488.8,274.5 L486.3,272.4 L489.3,271.1 L492.6,270.6 L495.4,268.8 L497.9,267.2 L499.7,264.5 L502.6,263.4 L504.8,261.3 L507.1,259.3 L509.9,258.0 L512.8,257.7 L515.3,256.1 L517.9,257.6 L520.8,258.0 L521.2,260.9 L522.6,263.4 L523.3,266.1 L524.6,268.4 L526.2,270.6 L529.8,268.8 L532.3,266.5 L533.4,263.4 L536.1,263.9 L538.9,263.4 L539.8,261.6 L537.0,258.0 L534.2,257.5 L531.6,256.1 L530.2,253.9 L528.0,252.5 L526.2,250.7 L523.6,249.4 L520.8,248.9 L518.4,247.6 L515.9,246.6 L513.5,245.3 L511.0,244.3 L508.6,242.9 L506.3,241.6 L503.1,240.7 L500.0,239.8 L497.2,238.0 L495.1,236.3 L492.6,235.1 L490.0,234.4 L492.6,234.9 L495.1,234.0 L497.6,233.4 L500.1,233.4 L502.6,232.6 L505.3,230.8 L504.2,227.2 L504.4,223.5 L502.8,221.5 L500.8,219.9 L498.0,218.2 L495.4,216.3 L496.1,213.6 L497.3,211.2 L499.0,209.0 L497.2,206.3 L495.4,203.6 L495.9,200.7 L497.2,198.1 L495.3,195.4 L493.6,192.7 L491.9,190.2 L489.8,187.9 L488.1,185.4 L485.8,184.1 L484.5,181.8 L482.7,180.0 L481.9,176.8 L481.6,173.6 L481.7,170.3 L482.7,167.8 L484.4,165.8 L485.4,163.3 L487.5,161.5 L488.5,158.6 L489.7,155.8 L489.5,152.7 L490.4,149.8 L490.1,146.8 L489.7,143.7 L487.4,141.1 L487.5,138.0 L487.4,135.0 L489.0,132.3 L489.0,129.3 L488.1,126.1 L486.3,123.3 L484.6,120.5 L482.1,119.5 L480.1,117.7 L478.4,115.5 L475.8,114.6 L473.7,112.8 L471.3,111.8 L468.5,111.6 L466.6,109.4 L464.0,108.8 L461.5,107.2 L459.6,105.0 L456.6,104.0 L455.2,101.1 L452.4,100.0 L450.6,97.9 L448.8,95.8 L446.1,94.5 L444.7,92.0 L442.7,90.1 L440.6,88.2 L437.7,87.3 L434.7,87.0 L432.0,85.6 L429.0,85.3 L426.8,83.0 L424.7,80.7 L423.0,78.0 L423.0,74.0 L423.0,20.0 Z" fill="#ddd1bc"/>
<path d="M353.3,456.3 L354.5,463.3 L358.0,469.1 L363.8,473.8 L365.0,480.8 L369.6,485.5 L374.3,499.4 L381.3,489.0 L379.0,480.8 L375.5,471.5 L372.0,458.6 L370.8,457.5 Z" fill="#777777" stroke="#666" stroke-width="0.8"/>
<path d="M78.0,170.0 L131.0,184.3 L192.5,199.5 L292.0,217.0" fill="none" stroke="#fff" stroke-opacity="0.13" stroke-width="1"/>
<path d="M141.6,195.2 L138.0,218.8 L138.0,262.0 L174.8,323.0 L204.0,364.0 L203.5,378.4" fill="none" stroke="#fff" stroke-opacity="0.13" stroke-width="1"/>
<path d="M113.0,94.0 L121.0,96.2 L136.2,101.3 L161.6,103.8 L181.9,106.3 L202.2,105.0 L222.0,104.0" fill="none" stroke="#fff" stroke-opacity="0.13" stroke-width="1"/>
<path d="M226.3,48.0 L222.5,81.0 L222.0,104.0" fill="none" stroke="#fff" stroke-opacity="0.13" stroke-width="1"/>
<path d="M240.3,53.0 L237.8,81.0 L248.0,96.2 L255.5,106.3 L258.0,121.6 L263.1,141.9 L270.8,159.7 L283.5,159.7 L298.7,158.4" fill="none" stroke="#fff" stroke-opacity="0.13" stroke-width="1"/>
<path d="M222.0,104.0 L215.0,130.0 L204.0,160.0 L197.1,182.5 L194.6,202.8" fill="none" stroke="#fff" stroke-opacity="0.13" stroke-width="1"/>
<path d="M298.7,158.4 L296.2,197.8 L292.0,217.0" fill="none" stroke="#fff" stroke-opacity="0.13" stroke-width="1"/>
<path d="M239.4,219.0 L221.8,330.0" fill="none" stroke="#fff" stroke-opacity="0.13" stroke-width="1"/>
<path d="M221.8,322.6 L255.0,324.5 L305.0,331.0" fill="none" stroke="#fff" stroke-opacity="0.13" stroke-width="1"/>
<path d="M305.0,331.0 L300.0,380.0 L292.4,452.0" fill="none" stroke="#fff" stroke-opacity="0.13" stroke-width="1"/>
<path d="M292.0,217.0 L300.0,260.0 L305.0,331.0" fill="none" stroke="#fff" stroke-opacity="0.13" stroke-width="1"/>
<path d="M600.0,362.0 L651.7,358.6 L698.6,352.7 L740.0,348.0 L780.6,343.0 L840.0,339.0 L870.0,337.0" fill="none" stroke="#fff" stroke-opacity="0.13" stroke-width="1"/>
<path d="M640.0,394.0 L675.0,391.8 L726.0,387.9 L761.0,386.0" fill="none" stroke="#fff" stroke-opacity="0.13" stroke-width="1"/>
<path d="M726.0,387.9 L731.8,409.4 L737.7,436.7 L740.0,470.0 L747.0,477.0" fill="none" stroke="#fff" stroke-opacity="0.13" stroke-width="1"/>
<path d="M765.0,386.0 L788.4,401.6 L808.0,425.0 L823.6,440.6" fill="none" stroke="#fff" stroke-opacity="0.13" stroke-width="1"/>
<path d="M776.7,374.2 L815.8,374.2 L850.0,382.0" fill="none" stroke="#fff" stroke-opacity="0.13" stroke-width="1"/>
<path d="M685.0,482.0 L747.0,477.0 L800.0,472.0" fill="none" stroke="#fff" stroke-opacity="0.13" stroke-width="1"/>
<path d="M692.0,392.0 L692.0,440.0 L690.0,480.0" fill="none" stroke="#fff" stroke-opacity="0.13" stroke-width="1"/>
<path d="M603.0,395.0 L605.0,440.0 L600.0,470.0" fill="none" stroke="#fff" stroke-opacity="0.13" stroke-width="1"/>
<path d="M172.0,34.8 L172.4,37.7 L171.6,40.5 L171.3,43.4 L169.3,45.1 L167.9,47.1 L166.2,49.1 L165.0,51.3 L163.5,53.4 L161.4,55.1 L160.3,57.5 L159.0,59.3 L158.4,61.7 L156.6,63.2 L155.9,65.5 L154.0,66.9 L152.5,68.7 L151.7,70.8 L152.0,73.3 L151.3,75.4 L149.7,77.2 L149.4,79.4 L149.1,81.9 L148.4,84.3 L147.6,86.6 L146.3,88.8 L144.4,90.6 L142.0,91.7 L140.0,93.4 L137.2,94.3 L135.3,96.6 L135.6,99.3 L133.9,101.7 L134.5,104.4 L135.0,106.8 L135.0,109.3 L135.7,111.6 L136.9,113.8 L136.4,116.6 L134.6,118.9 L133.8,121.6 L133.4,124.5 L132.5,127.1 L130.6,129.4 L128.1,132.5 L127.0,134.8 L125.2,136.6 L124.3,139.0 L123.6,141.5 L121.9,143.4 L120.5,146.4 L120.3,149.7 L121.4,151.8 L123.8,152.5 L125.1,154.3 L126.6,155.9 L127.4,158.6 L128.0,161.4 L129.7,163.8 L132.2,165.4 L133.8,168.0 L135.9,170.0 L134.7,173.1 L135.2,176.3 L137.4,177.6 L139.8,178.6 L139.7,181.0 L139.8,183.3 L140.6,185.6 L141.7,187.7 L143.1,189.6 L143.8,191.9 L145.8,193.1 L147.9,194.0 L150.0,195.0 L151.8,197.2 L153.1,199.7 L155.1,198.6 L156.3,196.6 L157.7,194.8 L159.4,193.4 L161.7,191.1 L164.0,188.8 L164.1,191.5 L164.5,194.1 L165.6,196.6 L168.2,196.5 L170.3,195.0 L172.7,194.5 L175.0,193.4 L177.2,192.2 L179.7,191.9 L182.8,191.9 L183.3,194.2 L184.2,196.4 L185.9,198.1 L186.3,200.6 L187.0,203.0 L188.2,205.2 L189.0,207.5 L190.6,209.1 L192.1,210.7 L193.8,212.2 L196.5,213.2 L198.4,215.3 L199.0,217.7 L199.5,220.2 L201.0,222.3 L202.1,219.8 L204.6,218.3 L206.1,216.1 L207.4,213.7 L210.0,215.4 L211.7,218.0 L212.8,215.8 L215.1,214.9 L216.2,212.8 L218.2,211.6 L219.9,213.5 L220.9,216.0 L222.5,218.0 L224.7,217.6 L226.9,217.1 L229.0,216.2 L231.0,215.2 L233.2,214.8 L235.6,214.7 L237.7,215.6 L239.6,217.0 L241.6,216.0 L243.9,216.2 L246.2,216.1 L248.1,214.7 L250.4,214.8 L252.4,213.3 L255.1,212.8 L256.7,210.7 L258.9,209.5 L261.2,208.7 L263.3,207.5 L265.6,206.5 L267.6,205.1 L269.8,206.7 L271.9,208.4 L274.1,206.9 L276.4,205.7 L278.0,203.3 L280.8,202.8 L282.6,200.8 L284.3,203.1 L287.4,203.8 L289.0,206.2 L291.3,206.2 L293.5,206.9 L295.7,207.1 L297.7,208.4 L298.2,206.1 L300.1,204.5 L300.3,202.0 L301.3,199.9 L303.8,198.7 L304.0,196.2 L305.3,194.3 L306.3,192.2 L308.4,191.5 L310.5,190.5 L312.7,190.1 L313.6,187.5 L314.6,185.0" fill="none" stroke="#f2f2ee" stroke-width="1.6" stroke-linejoin="round"/>
<path d="M135.2,176.3 L134.4,179.4 L133.1,181.6 L132.0,184.0 L134.4,187.2 L134.4,190.3 L132.5,191.8 L129.8,191.6 L128.1,193.4 L125.3,194.4 L123.4,196.6 L121.1,194.3 L118.8,191.9 L116.5,191.6 L114.1,192.4 L111.8,192.4 L109.4,191.9 L106.3,193.0 L103.1,193.4 L100.6,194.7 L98.4,196.6 L98.4,199.3 L96.6,201.6 L96.9,204.4 L95.1,206.1 L92.9,207.0 L90.6,207.5 L87.5,210.6 L87.5,213.9 L86.0,216.9 L85.7,219.3 L86.6,221.6 L86.6,223.9 L86.7,226.3 L86.2,228.5 L84.9,230.3 L84.4,232.5 L82.1,234.2 L79.7,235.6 L79.0,238.1 L77.3,240.0 L78.6,242.2 L80.1,244.4 L81.0,246.9 L80.1,249.5 L77.6,251.0 L76.4,253.3 L75.2,255.7 L72.0,258.0" fill="none" stroke="#f2f2ee" stroke-width="1.6" stroke-linejoin="round"/>
<path d="M296.6,208.4 L296.8,210.8 L295.5,213.0 L295.8,215.5 L294.4,217.6 L294.3,220.0 L295.0,222.4 L296.0,224.7 L293.8,226.0 L291.4,227.0 L291.2,229.3 L291.3,231.7 L291.4,234.0 L292.2,236.6 L291.3,239.1 L291.2,241.7 L291.4,244.2 L291.4,246.8 L288.4,248.0 L286.1,250.3 L283.9,251.9 L282.4,254.3 L280.3,256.1 L280.6,258.5 L280.7,260.8 L279.3,263.0 L279.7,265.4 L278.0,266.9 L276.8,268.9 L275.7,271.2 L275.1,273.6 L274.2,275.9 L273.3,278.3 L272.9,280.8 L271.5,282.9 L271.3,285.5 L269.8,287.6 L268.4,290.0 L266.7,292.2 L265.1,294.5 L263.8,297.0 L262.4,299.8 L261.5,302.8 L263.2,306.3 L261.8,308.2 L260.2,310.0 L258.0,311.0 L255.8,313.0 L253.3,314.5 L251.8,316.6 L251.0,319.1 L251.3,321.4 L251.1,323.8 L251.9,326.1 L252.1,328.4 L254.2,330.2 L255.5,332.9 L258.0,334.3 L261.5,333.1 L262.1,335.8 L262.0,338.6 L261.5,341.3 L259.8,342.8 L258.2,344.3 L256.8,346.0 L254.8,348.4 L252.7,350.6 L252.2,352.9 L252.1,355.3 L251.6,357.6 L250.7,360.4 L250.4,363.4 L251.3,365.6 L253.3,366.9 L253.9,369.5 L255.4,371.7 L256.8,373.9 L258.0,376.9 L259.1,380.0 L259.6,382.8 L261.6,385.0 L262.7,387.5 L264.3,389.4 L265.8,391.5 L267.7,393.0 L269.9,394.4 L271.5,396.3 L273.4,397.5 L275.6,398.2 L277.4,399.5 L279.7,399.9 L281.8,400.6 L283.6,402.1 L286.0,402.2 L288.4,401.6 L290.7,400.8 L293.3,401.2 L295.6,400.6 L297.8,399.2 L300.3,399.2 L302.7,399.7 L304.7,401.6 L307.1,402.3 L309.6,402.2 L311.4,400.9 L313.1,399.5 L315.2,398.7 L315.5,396.4 L316.0,394.1 L314.7,391.9 L315.1,389.6 L315.5,387.3 L314.7,385.0 L315.0,382.7 L314.6,380.5 L315.2,378.2 L315.2,375.9 L316.7,374.0 L318.3,372.3 L320.4,371.2 L321.9,369.3 L323.7,367.7 L325.5,366.2 L327.6,365.1 L329.2,363.4 L331.5,362.4 L333.0,360.6 L334.6,358.8 L336.0,356.9 L337.7,355.2 L339.5,353.6 L341.7,352.5 L343.1,350.5 L344.2,348.1 L346.1,346.4 L348.2,344.7 L349.7,342.7 L350.8,340.3 L352.9,341.3 L354.6,342.9 L356.8,343.6 L359.2,343.9 L361.0,345.4 L363.3,344.1 L365.9,343.6 L368.7,344.0 L371.1,342.9" fill="none" stroke="#f2f2ee" stroke-width="1.6" stroke-linejoin="round"/>
<path d="M250.4,363.4 L247.3,362.4 L244.1,363.1 L242.2,361.9 L240.5,360.2 L238.6,358.9 L236.5,358.0 L234.8,356.4 L233.3,354.7 L232.8,352.3 L231.4,350.5 L230.0,352.9 L227.7,354.4 L225.2,355.6 L223.8,358.0 L221.1,358.0 L218.9,360.0 L216.3,360.7 L213.6,360.6 L211.6,359.0 L210.9,356.4 L208.2,355.4 L207.3,353.0 L206.5,350.5 L206.1,348.0 L205.9,345.4 L206.3,342.8 L206.0,340.3 L203.8,342.1 L201.0,342.9 L199.4,344.7 L197.3,346.0 L195.6,347.7 L194.3,349.7 L192.1,351.0 L190.8,353.0 L188.7,353.8 L186.4,354.3 L184.7,356.2 L182.6,356.9 L180.3,357.5 L178.0,357.8 L176.1,359.2 L174.2,360.4 L172.2,361.7 L170.1,362.5 L167.9,363.1 L165.3,363.1 L163.0,361.2 L160.4,360.9 L157.9,360.4 L155.2,360.6 L154.3,362.7 L153.2,364.7 L152.7,366.9 L153.4,369.0 L153.5,371.3 L154.5,373.3 L154.4,375.6 L155.1,377.7 L155.0,380.0 L156.2,382.1 L155.2,384.7 L157.1,386.7 L156.3,389.2 L157.0,391.4 L157.8,393.6 L158.9,395.7 L158.5,397.9 L158.0,400.3 L158.4,402.4 L159.5,404.5 L159.5,406.7 L160.3,408.8" fill="none" stroke="#f2f2ee" stroke-width="1.6" stroke-linejoin="round"/>
<path d="M323.4,211.7 L325.8,212.3 L328.0,211.9 L330.3,211.4 L332.4,210.3 L334.7,210.2 L337.1,210.7 L339.4,210.6 L341.6,209.8 L343.6,208.4 L346.0,208.1 L348.5,208.8 L350.5,206.9 L352.9,207.2 L355.1,206.1 L357.5,206.1 L359.8,205.9 L361.9,204.7 L364.1,205.4 L366.5,205.6 L368.7,206.1 L370.9,207.2 L373.1,207.8 L375.5,207.9 L377.7,208.6 L379.9,209.3 L382.2,209.8 L384.5,210.1 L386.7,210.7 L388.7,212.1 L391.1,212.0 L393.0,213.6 L395.1,214.7 L397.4,214.9 L399.7,215.1 L401.7,213.7 L403.9,213.6 L406.3,214.2 L408.3,212.8 L410.7,213.5 L412.7,212.3 L414.6,210.7 L417.3,210.7 L418.8,208.3 L421.5,208.2 L423.8,207.4 L425.8,205.9 L427.9,204.7 L429.5,203.2 L431.3,201.8 L432.8,200.2 L433.1,197.6 L435.0,196.3 L435.7,194.0 L437.6,192.7 L438.7,190.8 L440.6,189.5 L442.5,188.1 L444.9,188.0 L446.7,186.3 L448.8,185.5 L450.9,184.4 L453.3,184.4 L455.7,184.2 L457.5,182.5 L459.6,181.5 L462.1,181.7 L464.3,181.1 L466.4,180.3 L468.5,179.3 L470.7,178.4 L472.8,177.4 L475.1,176.8 L477.0,175.1 L479.5,175.0 L481.4,173.5" fill="none" stroke="#f2f2ee" stroke-width="1.6" stroke-linejoin="round"/>
<path d="M433.3,320.1 L433.1,317.6 L431.4,315.6 L431.4,313.1 L430.8,310.7 L428.9,308.8 L428.9,306.3 L427.3,304.3 L426.2,302.1 L426.0,299.6 L428.4,298.8 L431.0,299.1 L433.2,297.5 L435.8,297.9 L438.1,296.9 L440.6,296.7 L442.7,295.7 L445.0,295.9 L447.2,295.4 L449.4,295.2 L451.7,295.6 L453.9,295.3 L455.9,293.7 L458.2,293.8 L460.6,293.4 L462.2,291.7 L464.5,291.1 L466.4,289.8 L468.1,288.2 L470.0,287.0 L472.0,285.8 L474.6,286.3 L476.8,285.6 L478.8,284.3 L480.9,283.3 L483.5,283.2 L485.6,285.1 L488.1,285.1 L490.3,286.8 L492.7,288.2 L495.4,288.8 L496.7,290.8 L498.5,292.2 L500.5,293.2 L502.6,294.2 L505.1,295.2 L507.4,296.7 L509.9,297.8 L511.7,299.2 L513.2,300.9 L515.2,302.1 L517.1,303.3 L518.0,305.5 L519.8,306.9 L521.1,308.8 L522.6,310.5" fill="none" stroke="#f2f2ee" stroke-width="1.6" stroke-linejoin="round"/>
<path d="M558.0,88.0 L558.6,90.4 L559.2,92.8 L561.6,94.5 L560.9,97.4 L562.0,99.6 L564.2,101.4 L564.4,104.0 L561.9,104.3 L559.7,105.1 L557.7,106.9 L555.0,106.4 L553.0,108.0 L551.5,109.8 L549.7,111.4 L548.0,113.0 L547.1,115.5 L546.4,118.0 L545.6,120.5 L545.4,123.2 L546.3,125.7 L546.5,128.3 L547.6,130.7 L547.9,133.3 L548.0,135.9 L546.1,138.0 L544.1,140.0 L545.4,142.7 L545.4,145.7 L545.6,148.6 L546.5,151.7 L548.4,154.3 L549.8,156.4 L550.2,158.8 L551.8,160.8 L551.4,163.6 L552.7,165.7 L554.1,167.6 L554.6,169.8 L554.4,172.2 L555.5,174.2 L557.0,176.3 L558.4,178.5 L561.2,178.4 L564.1,178.2 L566.9,177.8 L568.8,176.6 L570.6,175.3 L572.6,174.2 L575.1,173.6 L577.6,173.6 L580.1,173.7 L582.6,174.2 L581.6,177.3 L579.8,179.9 L578.1,182.0 L575.5,183.2 L574.1,185.6 L575.3,187.6 L575.5,189.9 L577.5,191.4 L578.7,193.4 L579.8,195.6 L582.2,194.9 L584.5,196.2 L586.9,195.6 L588.3,197.7 L590.4,198.8 L592.6,199.9 L594.8,201.6 L597.5,201.9 L600.0,202.7 L602.2,202.4 L604.4,202.1 L606.7,202.4 L608.9,201.9 L610.5,200.2 L612.7,199.4 L614.5,197.9 L616.5,196.8 L618.0,198.7 L619.4,200.7 L621.6,201.9 L620.7,204.4 L620.9,207.1 L619.5,209.4 L619.0,212.0 L621.5,212.7 L624.1,212.6 L626.7,212.0 L629.2,212.3 L631.7,213.3 L634.3,212.4 L636.9,211.8 L639.3,210.4 L641.9,209.5 L643.9,208.1 L645.3,206.2 L647.4,204.9 L648.3,202.4 L650.7,201.5 L652.0,199.4 L654.3,198.9 L656.0,197.0 L658.4,196.8 L660.1,198.6 L661.2,200.7 L661.7,203.2 L663.2,205.1 L664.7,207.0 L666.2,208.9 L665.8,211.5 L667.2,213.4 L667.0,215.9 L668.7,217.7 L669.8,219.8 L669.8,222.2 L671.1,224.1 L671.9,226.2 L673.0,228.3 L673.9,230.4 L675.0,232.4 L676.8,233.9 L677.8,236.0 L679.4,237.6 L680.0,240.0" fill="none" stroke="#f2f2ee" stroke-width="1.6" stroke-linejoin="round"/>
<path d="M579.8,195.6 L578.0,198.1 L575.5,199.9 L574.0,201.9 L571.9,203.7 L571.0,206.1 L569.8,208.4 L566.9,207.0 L564.1,205.6 L562.0,203.9 L559.8,202.3 L558.4,199.9 L557.0,197.7 L554.9,196.7 L552.7,195.6 L549.6,194.6 L547.0,192.7 L545.2,191.2 L543.4,189.6 L541.3,188.5 L538.9,188.5 L537.0,189.9 L538.1,191.9 L538.4,194.2 L541.3,197.0 L542.3,199.8 L542.7,202.7 L543.3,205.1 L542.5,207.4 L542.7,209.8 L539.5,210.6 L537.0,212.7 L535.2,214.8 L534.7,217.8 L532.7,219.8 L532.2,222.0 L532.0,224.3 L531.2,226.4 L529.9,228.4 L527.8,229.8 L525.6,231.2 L522.5,230.4 L519.9,228.4 L516.9,227.3 L514.2,225.5 L511.5,226.7 L508.5,227.0 L505.6,229.8" fill="none" stroke="#f2f2ee" stroke-width="1.6" stroke-linejoin="round"/>
<path d="M681.5,240.9 L684.0,241.4 L685.6,243.5 L688.0,244.1 L690.5,243.3 L692.1,241.2 L694.2,239.7 L696.5,238.7 L699.0,239.9 L701.3,241.3 L703.3,243.2 L705.1,245.2 L708.0,244.7 L710.8,245.8 L713.7,245.2 L714.9,243.2 L716.5,241.6 L719.0,240.9 L720.1,238.7 L721.8,236.9 L721.6,234.1 L723.0,232.2 L724.4,230.2 L726.7,228.6 L727.5,225.8 L729.5,223.9 L730.9,221.6 L732.3,219.6 L733.3,217.4 L733.4,214.8 L735.2,213.0 L737.1,211.1 L738.9,209.0 L739.9,206.5 L741.6,204.4 L743.0,202.1 L745.2,200.3 L747.2,198.5 L748.1,195.8 L749.6,193.9 L749.0,191.3 L750.2,189.3 L751.3,187.2" fill="none" stroke="#f2f2ee" stroke-width="1.6" stroke-linejoin="round"/>
<path d="M765.3,238.7 L767.6,239.1 L769.6,240.1 L771.7,240.9 L773.9,239.9 L775.7,238.1 L778.2,237.7 L780.3,236.6 L782.7,236.6 L784.6,235.2 L786.7,234.4 L787.8,232.3 L788.9,230.2 L791.4,228.4 L793.2,225.9 L795.4,226.9 L797.5,228.0 L799.4,229.3 L800.3,231.6 L802.7,232.4 L803.9,234.4 L804.7,237.0 L806.2,239.1 L808.2,240.9 L807.6,243.0 L807.1,245.2 L807.4,247.5 L806.1,249.5 L806.1,252.3 L804.5,254.8 L804.0,257.4 L803.9,260.2 L803.3,262.3 L803.7,264.6 L802.2,266.6 L801.4,268.7 L801.8,271.0 L801.1,273.7 L801.5,276.4 L801.9,279.0 L801.8,281.7 L802.6,283.8 L803.8,285.8 L803.9,288.2 L806.4,288.5 L808.2,290.3" fill="none" stroke="#f2f2ee" stroke-width="1.6" stroke-linejoin="round"/>
<path d="M827.6,290.3 L829.1,288.4 L828.8,285.9 L830.3,284.0 L830.0,281.6 L831.2,279.5 L831.9,277.4 L833.2,275.0 L835.2,273.1 L836.1,270.5 L838.3,268.8 L841.5,268.7 L844.7,268.8 L847.0,269.6 L849.0,271.0" fill="none" stroke="#f2f2ee" stroke-width="1.6" stroke-linejoin="round"/>
<path d="M634.3,330.8 L632.1,331.6 L630.5,333.3 L631.4,335.8 L630.5,338.6 L631.7,341.0 L633.8,342.7 L636.1,344.2 L638.1,346.0 L640.4,345.6 L642.4,344.2 L644.6,343.6 L647.0,343.5 L649.0,346.0 L650.8,348.6 L651.0,351.2 L650.0,353.6 L650.2,356.2 L650.0,358.8 L649.5,361.3 L648.6,364.0 L647.4,366.6 L645.7,368.9 L644.1,371.3 L642.5,373.6 L641.9,376.5 L640.0,378.4 L637.4,379.5 L635.6,381.6 L633.2,382.8 L630.4,382.8 L628.0,384.1 L626.6,386.1 L624.5,387.4 L622.9,389.2 L620.4,390.2 L617.6,390.2 L615.2,391.7 L612.9,393.2 L611.8,396.0 L609.8,397.8 L607.4,399.2 L605.1,399.9 L602.8,400.9 L600.5,401.5 L597.8,400.8 L595.7,402.2 L593.6,400.8 L590.8,401.8 L588.5,401.2 L586.4,399.6 L584.0,399.2 L581.4,398.9 L579.0,399.5 L576.6,400.4 L574.1,400.8 L571.8,401.7 L569.3,402.2 L566.8,402.2 L564.3,401.6 L561.8,402.9 L559.2,401.9 L556.7,401.8 L554.2,402.8 L551.7,402.2" fill="none" stroke="#f2f2ee" stroke-width="1.6" stroke-linejoin="round"/>
<path d="M818.4,295.2 L817.8,297.8 L816.8,300.2 L816.2,302.8 L815.8,305.4 L814.6,307.4 L813.5,309.4 L812.9,311.6 L813.0,314.1 L812.1,316.2 L810.8,318.1 L811.8,320.3 L812.9,322.5 L812.9,325.1 L814.6,327.0 L812.7,329.0 L811.4,331.5 L810.0,333.8 L808.2,335.9 L807.1,338.2 L805.0,339.8 L803.0,341.5 L802.6,344.3 L800.6,346.0 L799.1,348.1 L797.8,350.2 L795.9,352.0 L794.9,354.4 L793.0,356.2 L792.2,358.5 L789.8,359.6 L788.9,361.9 L787.0,363.3 L785.1,364.8 L784.1,367.0 L782.8,368.9 L780.3,369.8 L778.4,371.5 L777.2,374.1 L775.0,375.3 L772.7,376.5 L770.6,377.5 L768.9,379.1 L767.5,381.1 L765.1,381.6 L762.8,383.1 L761.1,385.2 L759.4,387.4 L757.4,389.2 L756.4,391.2 L755.9,393.5 L754.3,395.3 L754.0,397.6 L752.4,399.4 L750.3,401.1 L748.0,402.6 L747.0,405.5 L744.7,407.0 L744.1,409.2 L742.6,411.0 L741.1,412.8 L741.2,415.3 L739.7,417.1 L739.2,419.7 L738.2,422.2 L738.3,424.9 L737.1,427.3 L737.2,430.0 L735.4,432.2 L735.0,434.8 L734.6,437.4 L733.8,439.9 L733.2,442.5 L733.3,445.2 L732.0,447.6 L730.0,449.1 L728.0,450.7 L725.9,452.1 L724.3,454.2 L721.9,455.2 L720.1,456.8 L717.7,456.9 L715.4,457.4 L713.3,458.3 L711.0,458.7 L709.2,460.3 L707.4,461.8 L705.5,463.0 L703.7,464.4 L701.6,465.4 L700.3,467.8 L698.8,470.1 L697.2,472.3 L696.5,475.0 L696.6,477.7 L695.1,480.0 L694.2,482.4 L694.0,485.0 L693.6,487.3 L694.1,489.6 L694.8,492.0 L694.0,494.3" fill="none" stroke="#f2f2ee" stroke-width="1.6" stroke-linejoin="round"/>
<path d="M810.8,318.1 L808.5,319.7 L805.5,319.1 L803.1,320.6 L801.0,321.5 L799.8,323.9 L797.3,324.4 L795.5,325.7 L792.9,325.8 L790.5,324.4 L788.0,324.1 L785.4,324.4 L783.8,322.7 L782.8,320.6" fill="none" stroke="#f2f2ee" stroke-width="1.6" stroke-linejoin="round"/>
<path d="M673.6,396.8 L676.3,397.0 L678.9,397.4 L681.2,399.0 L683.8,399.4 L686.0,400.3 L687.5,402.1 L689.8,402.6 L691.4,404.4 L694.2,404.4 L696.6,403.0 L699.0,401.9 L701.6,402.2 L704.3,402.4 L706.5,404.4 L709.2,404.4 L711.5,405.9 L714.4,405.9 L716.8,407.0 L716.4,409.3 L714.0,410.7 L713.1,412.7 L712.8,415.1 L711.7,417.1 L711.3,419.4 L709.3,421.0 L707.9,422.8 L708.0,425.4 L706.7,427.3 L705.9,429.4 L704.1,431.0 L703.2,433.2 L702.0,435.0 L701.6,437.4 L700.4,439.3 L700.0,441.7 L697.8,443.2 L697.0,445.3 L696.5,447.6 L695.2,450.0 L695.5,452.8 L695.0,455.3 L694.0,457.8 L693.5,460.4 L693.8,462.9 L695.6,465.3 L695.2,467.9 L696.1,470.6 L696.1,473.3 L695.5,476.0" fill="none" stroke="#f2f2ee" stroke-width="1.6" stroke-linejoin="round"/>
<path d="M488.4,432.7 L490.2,434.8 L493.1,435.2 L495.4,436.5 L497.2,438.6 L499.5,439.9 L500.4,442.4 L502.0,444.3 L503.6,446.3 L506.0,447.4 L507.0,449.7 L508.3,451.7 L509.5,453.8 L511.1,455.7 L512.2,457.9 L514.1,459.6 L514.8,462.0 L517.5,462.8 L518.8,465.5 L521.1,466.9 L523.6,467.9 L525.3,470.1 L527.8,471.2 L530.1,472.5 L532.4,473.8 L533.5,476.1 L532.7,478.8 L533.8,481.1 L533.7,483.7 L534.3,486.1 L535.3,488.4 L535.5,491.0 L536.5,493.3 L537.0,495.9 L538.4,498.1 L538.6,500.7 L539.7,503.0 L540.2,505.4 L540.7,507.8 L540.6,510.3 L541.3,512.6 L542.6,514.8 L543.4,517.3 L544.8,519.6 L546.6,521.6 L546.8,524.4 L548.5,526.5 L549.4,529.4 L550.0,532.4" fill="none" stroke="#f2f2ee" stroke-width="1.6" stroke-linejoin="round"/>
<path d="M608.5,450.3 L610.1,452.7 L612.3,454.4 L614.4,456.2 L615.5,458.6 L618.1,460.1 L618.6,462.9 L620.3,465.0 L620.5,467.4 L621.5,469.7 L622.1,472.0 L623.1,474.2 L623.2,476.7 L624.8,479.5 L626.1,482.5 L628.3,481.9 L630.7,481.7 L632.7,480.4 L634.9,479.6 L636.3,477.4 L637.6,475.0 L639.7,473.3 L640.8,470.8 L642.0,467.8 L643.7,465.0" fill="none" stroke="#f2f2ee" stroke-width="1.6" stroke-linejoin="round"/>
<path d="M751.0,485.5 L752.1,483.4 L753.5,481.6 L755.3,480.1 L756.4,478.1 L758.4,476.7 L759.4,474.3 L760.1,471.7 L762.0,469.7 L763.2,467.4 L764.3,465.0 L764.8,462.7 L766.3,460.8 L765.7,458.1 L767.2,456.2 L769.4,454.2 L770.0,451.3 L771.6,448.9 L773.9,450.3 L775.4,452.4 L777.2,454.3 L779.0,456.2 L781.4,457.3 L782.2,460.0 L784.0,461.7 L785.8,463.4 L787.7,465.0 L790.0,465.5 L792.3,466.3 L794.7,465.8 L797.0,466.2 L799.4,466.4 L801.3,470.0 L799.6,471.8 L798.7,474.0 L798.8,476.7 L797.3,478.6 L798.5,481.3 L797.7,484.5 L798.9,487.2 L802.8,486.4 L805.3,485.0 L807.5,483.3 L808.3,480.5 L810.6,478.6 L813.8,477.0 L816.9,477.8 L819.0,477.0" fill="none" stroke="#f2f2ee" stroke-width="1.6" stroke-linejoin="round"/>
<path d="M278.5,56.0 L278.5,60.4 L278.7,63.0 L278.6,65.7 L278.0,68.3 L279.0,71.0 L279.0,73.6 L279.7,76.5 L280.3,79.5 L281.8,82.2 L282.0,85.3 L283.1,87.6 L284.1,90.1 L285.0,92.6 L287.3,94.3 L287.8,97.0 L288.4,99.9 L289.0,102.8 L288.0,105.9 L288.4,108.8 L289.0,111.7 L290.8,113.8 L290.2,116.9 L291.2,119.3 L292.7,121.5 L293.8,123.9 L295.0,126.3 L297.9,128.0 L300.0,130.7 L303.5,132.1 L305.9,135.0 L305.8,137.9 L306.7,140.9 L306.5,143.9 L305.9,146.8 L305.4,149.9 L304.8,152.9 L303.0,155.6 L304.2,157.9 L305.4,160.3 L305.9,163.0 L307.6,165.1 L308.8,167.4 L309.3,170.4 L310.3,173.2 L310.7,176.2 L311.7,179.0 L313.2,182.0 L314.6,185.0 L315.7,187.8 L315.2,191.0 L316.0,193.9 L317.6,196.6 L318.0,199.3 L319.2,201.8 L320.8,204.0 L321.9,206.5 L322.8,209.0 L323.4,211.7 L325.9,213.1 L327.0,216.0 L329.3,217.6 L332.3,218.2 L335.0,219.7 L338.1,219.6 L341.0,220.5 L343.0,222.4 L345.4,223.4 L348.4,223.2 L350.6,224.8 L352.7,226.4 L352.0,229.3 L352.8,232.2 L351.8,235.1 L352.7,238.0 L351.4,241.1 L349.8,244.0 L351.9,245.7 L352.6,248.5 L353.8,250.8 L355.7,252.7 L357.1,255.5 L358.3,258.3 L358.6,261.5 L361.1,262.4 L362.9,264.6 L365.4,265.5 L368.3,265.6 L370.3,267.4 L371.7,270.2 L372.9,273.0 L373.2,276.2 L373.0,279.4 L370.8,281.9 L370.3,285.0 L369.4,288.2 L367.3,290.8 L366.0,293.8 L365.3,297.4 L364.5,301.0 L367.2,299.4 L370.5,299.2 L373.0,297.2 L376.2,296.7 L379.2,296.2 L381.9,294.6 L385.0,294.4 L388.0,293.8 L390.5,293.3 L393.0,293.4 L395.5,294.6 L398.0,294.3 L400.5,293.4 L403.0,294.5 L405.5,293.8 L408.1,294.5 L410.3,295.9 L412.2,297.9 L414.7,298.7 L417.2,299.6 L419.6,301.1 L420.4,304.2 L423.0,305.5 L425.4,307.1 L427.3,309.1 L429.0,311.3 L430.0,314.4 L432.1,317.0 L433.3,320.1 L432.2,323.2 L431.1,326.4 L429.0,329.0 L427.5,331.5 L424.9,332.8 L423.0,334.8 L420.9,336.4 L418.2,337.0 L416.1,338.5 L413.7,339.5 L411.3,340.6 L408.6,340.8 L406.4,342.6 L403.9,343.4 L401.3,343.9 L399.3,346.0 L396.7,346.5 L393.6,346.1 L391.1,343.9 L388.0,343.6 L385.2,342.3 L382.0,342.5 L379.0,341.9 L376.2,340.6 L373.9,342.3 L371.7,344.0 L370.3,346.5 L370.1,349.6 L368.1,352.2 L367.5,355.1 L367.4,358.2 L367.8,361.0 L368.7,363.7 L369.8,366.4 L369.7,369.3 L372.6,371.1 L374.4,374.0 L375.2,377.0 L377.9,379.0 L379.0,381.8 L380.3,384.6 L382.5,386.7 L383.7,389.5 L386.6,391.6 L390.0,392.6 L392.5,394.3 L395.3,395.4 L397.7,397.3 L397.8,400.0 L396.3,402.4 L396.2,405.0 L396.4,407.8 L395.6,410.4 L394.6,412.9 L395.3,416.0 L396.2,419.0" fill="none" stroke="#5e5e5e" stroke-width="1.5" stroke-linejoin="round"/>
<path d="M396.2,419.0 L399.3,419.8 L402.4,420.6 L404.9,421.9 L407.5,422.9 L410.2,423.7 L412.9,423.6 L415.6,423.9 L418.0,425.3 L420.7,427.2 L423.4,429.1 L425.7,431.5 L427.6,434.3 L430.1,436.5 L432.7,438.6 L435.1,439.6 L437.5,440.3 L440.0,441.0 L442.4,441.9 L445.1,441.7 L447.4,443.0 L449.7,442.0 L451.9,440.7 L454.7,441.0 L456.5,438.7 L459.1,438.6 L459.7,435.7 L458.3,432.7 L459.1,429.8 L462.1,429.6 L464.9,428.5 L467.9,428.3 L470.8,427.8 L473.8,428.4 L476.6,426.6 L479.5,426.4 L482.5,426.9 L485.4,427.9 L488.4,427.5 L491.4,427.0 L494.2,428.9 L497.2,428.3 L500.2,428.8 L503.0,427.0 L505.9,427.3 L508.8,426.5 L511.8,426.9 L514.7,425.8 L517.8,425.7 L520.5,424.1 L523.6,424.0 L524.9,421.2 L524.8,417.9 L526.5,415.2 L525.0,412.5 L525.1,409.2 L523.6,406.4 L525.5,403.5 L528.0,402.3 L530.6,401.3 L533.3,400.4 L536.1,400.2 L538.7,399.6 L541.4,399.0 L544.2,398.8 L546.5,397.0 L549.6,397.1 L552.0,395.7 L554.3,393.0 L555.1,389.5 L552.2,387.9 L548.9,388.0 L546.5,386.2 L543.6,385.1 L541.1,383.3 L538.4,381.9 L536.1,379.9 L533.3,378.6 L531.2,376.1 L528.6,374.0 L530.3,371.9 L532.5,370.5 L534.9,369.3 L538.1,369.9 L541.1,370.9 L544.2,372.5 L547.3,374.0 L550.5,373.7 L553.5,372.4 L556.1,371.4 L558.4,369.5 L561.3,369.3 L564.0,369.3 L566.5,368.1 L569.1,367.7 L572.2,366.2 L575.3,364.6 L575.3,361.9 L576.2,359.4 L576.8,356.9 L578.2,353.7 L580.0,350.6 L578.0,348.0 L575.3,346.0 L572.8,345.0 L571.2,342.8 L569.1,341.3 L566.3,340.8 L564.0,338.9 L561.3,338.2 L558.2,336.8 L555.8,334.4 L553.5,332.0 L551.2,330.1 L549.5,327.7 L547.3,325.8 L544.7,324.3 L543.1,321.7 L541.1,319.5 L538.7,317.8 L536.7,315.6 L534.9,313.3 L531.8,312.7 L528.9,311.2 L525.6,311.3" fill="none" stroke="#5e5e5e" stroke-width="1.5" stroke-linejoin="round"/>
<path d="M525.6,311.3 L524.4,306.9 L523.4,304.6 L523.5,302.0 L522.6,299.6 L521.7,297.1 L520.8,294.5 L519.0,292.4 L516.8,291.0 L515.0,289.1 L513.5,287.0 L510.8,286.3 L508.5,285.0 L506.3,283.3 L504.1,281.7 L501.1,281.5 L499.0,279.7 L496.6,278.4 L494.0,277.7 L491.8,276.0 L488.8,274.5 L486.3,272.4 L489.3,271.1 L492.6,270.6 L495.4,268.8 L497.9,267.2 L499.7,264.5 L502.6,263.4 L504.8,261.3 L507.1,259.3 L509.9,258.0 L512.8,257.7 L515.3,256.1 L517.9,257.6 L520.8,258.0 L521.2,260.9 L522.6,263.4 L523.3,266.1 L524.6,268.4 L526.2,270.6 L529.8,268.8 L532.3,266.5 L533.4,263.4 L536.1,263.9 L538.9,263.4 L539.8,261.6 L537.0,258.0 L534.2,257.5 L531.6,256.1 L530.2,253.9 L528.0,252.5 L526.2,250.7 L523.6,249.4 L520.8,248.9 L518.4,247.6 L515.9,246.6 L513.5,245.3 L511.0,244.3 L508.6,242.9 L506.3,241.6 L503.1,240.7 L500.0,239.8 L497.2,238.0 L495.1,236.3 L492.6,235.1 L490.0,234.4 L492.6,234.9 L495.1,234.0 L497.6,233.4 L500.1,233.4 L502.6,232.6 L505.3,230.8 L504.2,227.2 L504.4,223.5 L502.8,221.5 L500.8,219.9 L498.0,218.2 L495.4,216.3 L496.1,213.6 L497.3,211.2 L499.0,209.0 L497.2,206.3 L495.4,203.6 L495.9,200.7 L497.2,198.1 L495.3,195.4 L493.6,192.7 L491.9,190.2 L489.8,187.9 L488.1,185.4 L485.8,184.1 L484.5,181.8 L482.7,180.0 L481.9,176.8 L481.6,173.6 L481.7,170.3 L482.7,167.8 L484.4,165.8 L485.4,163.3 L487.5,161.5 L488.5,158.6 L489.7,155.8 L489.5,152.7 L490.4,149.8 L490.1,146.8 L489.7,143.7 L487.4,141.1 L487.5,138.0 L487.4,135.0 L489.0,132.3 L489.0,129.3 L488.1,126.1 L486.3,123.3 L484.6,120.5 L482.1,119.5 L480.1,117.7 L478.4,115.5 L475.8,114.6 L473.7,112.8 L471.3,111.8 L468.5,111.6 L466.6,109.4 L464.0,108.8 L461.5,107.2 L459.6,105.0 L456.6,104.0 L455.2,101.1 L452.4,100.0 L450.6,97.9 L448.8,95.8 L446.1,94.5 L444.7,92.0 L442.7,90.1 L440.6,88.2 L437.7,87.3 L434.7,87.0 L432.0,85.6 L429.0,85.3 L426.8,83.0 L424.7,80.7 L423.0,78.0 L423.0,74.0" fill="none" stroke="#5e5e5e" stroke-width="1.5" stroke-linejoin="round"/>
<path d="M525.6,311.3 L528.3,310.7 L531.0,311.9 L533.7,311.9 L536.4,311.8 L539.3,312.3 L542.0,310.8 L544.8,310.4 L547.6,310.9 L550.4,310.2 L553.2,309.3 L555.7,307.5 L558.7,307.0 L561.3,305.5 L562.7,303.3 L564.8,301.7 L566.0,299.3 L566.9,296.6 L569.0,294.7 L572.2,294.7 L575.2,296.4 L578.4,296.2 L581.5,295.9 L584.6,295.8 L587.7,296.2 L590.7,297.3 L593.9,297.5 L597.0,297.8 L600.3,298.2 L603.2,300.0 L606.4,300.9 L609.4,302.2 L612.8,302.4 L615.7,304.0 L617.9,305.4 L620.7,305.7 L622.8,307.2 L625.0,308.6 L628.3,308.7 L631.2,310.2 L634.1,308.2 L637.5,307.1 L640.1,306.2 L641.5,303.8 L643.7,302.4 L646.4,301.0 L647.8,298.2 L650.0,296.2 L653.1,294.8 L656.0,293.0 L660.1,290.8 L662.1,289.0 L663.3,286.6 L663.9,283.8 L666.0,282.0 L667.6,279.2 L668.9,276.2 L669.0,279.2 L670.2,282.0 L670.7,284.9 L670.4,287.9 L668.3,289.9 L667.4,292.6 L666.4,295.2 L664.6,297.3 L663.0,299.6 L663.2,302.6 L661.8,305.4 L661.9,308.4 L661.6,311.3 L664.5,312.7 L666.1,315.7 L668.9,317.2 L671.5,318.0 L673.5,319.8 L676.0,320.8 L677.7,323.0 L680.1,321.9 L681.7,319.5 L684.3,318.7 L686.5,317.2 L689.2,315.8 L692.3,315.7 L695.4,315.3 L698.2,314.3 L701.2,313.6 L704.1,312.7 L707.0,312.0 L710.0,311.3 L711.9,309.3 L714.0,307.5 L715.3,304.9 L717.8,303.5 L719.4,301.2 L721.7,299.6 L723.3,296.9 L724.4,294.0 L724.6,290.8 L727.3,289.1 L730.3,288.3 L733.4,287.9 L735.6,286.2 L737.4,284.1 L739.2,282.0 L740.6,279.4 L743.4,278.4 L745.1,276.2 L746.7,279.6 L749.5,282.0 L750.0,284.9 L750.5,287.9 L750.5,290.9 L751.0,293.8 L753.5,296.0 L756.8,296.7 L758.8,294.9 L761.0,293.5 L763.1,291.8 L765.6,290.8 L767.3,288.7 L768.5,286.4 L769.7,284.0 L771.5,282.0 L773.1,284.9 L774.4,287.9 L776.8,288.9 L778.4,291.0 L780.0,292.9 L782.8,294.3 L785.8,294.2 L788.8,294.6 L791.8,293.8 L795.0,294.5 L797.9,293.1 L801.0,292.9 L803.6,292.0 L806.2,291.2 L808.8,290.9 L811.6,291.1 L815.2,290.6 L818.7,291.1 L822.2,289.3 L825.2,291.6 L827.5,294.6 L828.0,297.8 L830.2,300.3 L831.0,303.4 L834.5,305.2 L835.9,302.6 L838.2,300.6 L839.8,298.1 L841.4,295.7 L841.2,292.7 L842.9,290.4 L843.3,287.6 L844.9,284.8 L846.8,282.3 L850.3,280.5 L853.8,284.0 L856.4,285.9 L859.1,287.6 L861.7,288.6 L864.4,289.3 L867.0,290.1 L869.6,289.3 L872.2,290.6 L875.0,291.1 L877.6,292.9 L880.2,294.6 L883.7,298.1 L884.5,295.5 L883.8,292.8 L884.0,290.2 L885.2,287.7 L884.5,285.0 L885.2,282.0 L886.2,279.1 L886.0,275.9 L887.0,273.0 L889.7,273.6 L892.3,272.9 L895.0,272.5 L897.5,271.9 L900.0,273.0 L902.5,272.1 L905.0,272.0" fill="none" stroke="#5e5e5e" stroke-width="1.5" stroke-linejoin="round"/>
<path d="M396.2,419.0 L394.8,421.4 L396.0,424.4 L394.6,426.8 L393.7,429.3 L394.1,432.1 L393.0,434.6 L393.2,438.0 L396.0,440.6 L396.2,444.0 L395.1,447.2 L395.3,450.5 L391.8,454.0 L388.6,454.4 L385.4,454.9 L382.4,456.3 L379.4,455.7 L376.6,457.4 L373.7,457.5 L370.8,457.5 L368.3,457.0 L365.8,457.6 L363.3,457.4 L360.8,457.3 L358.3,456.0 L355.8,455.8 L353.3,456.3 L350.8,455.5 L348.1,456.4 L345.7,454.9 L343.1,455.4 L340.5,455.2 L338.0,457.0" fill="none" stroke="#5e5e5e" stroke-width="1.5" stroke-linejoin="round"/>
</g>
<path d="M876.5,262.0 L878.5,262.0 L880.0,270.0 L882.0,280.0 L884.0,290.0 L886.0,300.0 L888.0,308.0 L889.5,314.0 L886.0,316.0 L882.0,314.0 L883.0,306.0 L881.0,298.0 L879.0,289.0 L878.0,280.0 L877.0,270.0 Z" fill="#fff" stroke="#5e5e5e" stroke-width="0.9"/>
<path d="M675.0,168.0 L674.5,175.0 L672.9,191.5 L671.8,213.0 L675.0,225.9 L679.3,236.6 L683.6,239.8 L690.0,236.6 L696.5,225.9 L698.7,213.0 L695.4,195.8 L692.2,182.9 L692.2,168.0 Z" fill="#fff" stroke="#5e5e5e" stroke-width="1.1"/>
<path d="M111.9,28.6 L114.0,29.8 L116.0,31.2 L118.0,32.5 L120.2,33.4 L122.3,34.5 L124.4,35.6 L126.5,36.6 L128.4,37.9 L130.6,38.8 L133.8,38.0 L133.9,35.2 L134.5,32.5 L136.9,29.4 L136.7,26.6 L136.1,23.9 L138.5,24.0 L140.6,25.0 L142.8,25.7 L145.1,26.1 L147.1,27.4 L149.4,27.8 L151.8,28.1 L154.0,29.2 L156.3,30.0 L158.8,29.7 L161.0,31.0 L163.4,31.5 L165.7,31.8 L168.2,31.6 L170.5,32.7 L172.8,33.3 L175.0,34.0 L177.4,34.2 L179.7,34.7 L181.9,35.4 L184.2,35.9 L186.3,37.1 L188.7,37.2 L191.0,37.9 L193.2,38.7 L195.3,39.7 L197.8,39.5 L200.0,40.3 L202.3,40.2 L204.3,41.8 L206.6,42.1 L208.8,42.5 L211.1,42.6 L213.4,42.7 L215.6,43.1 L217.8,43.7 L220.0,44.4 L222.3,44.3 L224.4,45.5 L226.6,46.0 L229.0,45.6 L231.0,47.1 L233.3,47.1 L235.5,48.1 L237.8,48.0 L240.0,48.5 L242.1,49.3 L244.4,49.4 L246.6,50.1 L248.8,50.5 L251.1,50.4 L253.3,51.1 L255.5,51.7 L257.6,52.4 L259.8,52.8 L262.0,53.5 L264.2,54.2 L266.4,54.4 L268.6,54.8 L270.8,55.5 L273.0,56.0 L275.1,57.0 L277.4,57.3 L279.7,57.7 L281.9,58.4 L284.3,58.2 L286.6,58.5 L288.9,59.0 L291.1,59.6 L293.4,59.9 L295.5,61.1 L297.6,62.0 L300.0,62.0 L302.3,61.8 L304.5,62.8 L306.7,63.3 L309.0,63.4 L311.3,63.0 L313.5,63.8 L315.8,63.6 L318.0,63.8 L320.3,63.9 L322.5,64.8 L324.7,65.5 L327.1,64.8 L329.3,65.2 L331.5,65.7 L333.8,65.6 L336.0,66.4 L338.2,66.9 L340.5,66.9 L342.8,66.7 L345.0,67.5 L347.3,67.2 L349.6,67.6 L351.8,68.4 L354.0,69.0 L356.3,68.7 L358.6,68.4 L360.9,68.8 L363.1,69.3 L365.4,69.2 L367.7,69.4 L369.9,70.0 L372.1,70.7 L374.5,70.3 L376.6,71.3 L378.9,71.5 L381.2,71.2 L383.5,71.2 L385.8,71.4 L388.0,72.0 L390.2,72.6 L392.3,73.1 L394.5,73.6 L396.8,73.2 L399.0,73.8 L401.2,73.7 L403.4,74.4 L405.5,74.8 L407.8,74.9 L410.0,75.2 L412.0,76.7 L414.3,76.3 L416.4,76.9 L418.6,77.3 L420.8,77.6 L423.0,78.0 L425.2,78.2 L427.5,78.2 L429.8,78.3 L432.0,77.9 L434.2,78.7 L436.5,78.9 L438.7,79.0 L441.0,78.6 L443.3,78.9 L445.5,79.5 L447.7,79.5 L450.0,79.3 L452.4,78.8 L454.7,79.2 L457.1,79.1 L459.4,79.8 L461.8,79.5 L464.2,79.6 L466.6,79.4 L468.9,79.8 L471.3,80.1 L473.6,80.1 L476.0,80.0 L478.3,79.8 L480.5,80.1 L482.8,80.5 L485.1,80.0 L487.3,81.1 L489.6,80.2 L491.9,81.1 L494.2,80.6 L496.4,81.7 L498.7,81.6 L501.0,81.1 L503.2,81.6 L505.4,82.1 L507.7,82.3 L510.0,82.0 L512.3,82.4 L514.7,82.5 L517.0,82.8 L519.3,83.2 L521.7,82.8 L524.0,83.1 L526.3,83.5 L528.7,83.3 L531.0,83.2 L533.3,83.8 L535.7,83.7 L538.0,84.3 L540.3,84.5 L542.6,84.8 L545.0,84.5 L547.3,83.9 L549.6,83.6 L552.0,84.0 L552.8,81.4 L552.9,78.7 L553.0,76.0 L557.0,75.0 L556.6,77.6 L557.0,80.2 L557.1,82.8 L557.8,85.3 L560.1,85.3 L562.3,85.7 L564.4,86.5 L566.5,87.1 L568.9,86.7 L570.9,88.0 L573.3,87.5 L575.4,88.2 L577.7,88.4 L579.8,89.2 L582.1,89.5 L584.3,89.9 L586.5,90.5 L588.7,91.0 L590.9,91.6 L593.0,92.6 L595.0,94.0 L597.0,95.3 L599.1,96.5 L601.4,97.3 L603.4,98.6 L605.8,98.9 L608.3,98.1 L610.7,99.0 L613.1,98.5 L615.6,98.1 L618.0,98.6 L620.2,98.8 L622.5,99.0 L624.6,100.0 L626.9,99.9 L629.2,99.8 L631.3,100.4 L633.6,100.6 L635.7,101.5 L633.4,102.5 L631.9,104.5 L629.6,105.6 L627.8,107.3 L626.0,108.9 L624.0,110.3 L622.0,111.5 L620.3,113.2 L618.8,115.1 L616.3,115.7 L614.9,117.8 L612.9,118.9 L611.2,120.6 L609.3,122.0 L607.1,123.4 L606.1,125.8 L604.4,127.7 L602.6,129.4 L600.5,130.8 L602.7,130.0 L605.0,129.7 L607.1,128.6 L609.3,127.9 L611.2,129.5 L613.8,129.7 L615.6,131.7 L618.0,132.3 L620.2,131.5 L622.5,132.0 L624.6,130.8 L626.9,130.8 L629.1,130.5 L631.3,130.2 L633.6,130.3 L635.7,129.4 L637.9,128.9 L640.2,129.0 L642.2,127.7 L644.6,128.3 L646.7,127.4 L649.0,127.0 L651.3,127.2 L653.3,126.0 L655.6,125.9 L657.8,125.5 L660.0,125.0 L662.3,124.5 L664.6,124.1 L666.9,124.2 L669.2,123.8 L671.6,124.0 L673.8,123.5 L676.1,122.9 L678.5,123.4 L680.8,123.4 L683.1,122.8 L685.4,122.2 L687.7,122.0 L690.0,122.0 L692.1,123.1 L694.5,123.0 L696.7,123.9 L699.1,123.6 L701.2,125.0 L703.4,125.7 L705.8,125.5 L708.1,126.1 L710.2,127.0 L712.4,127.9 L714.8,127.9 L717.3,127.3 L719.4,125.4 L722.0,125.0 L723.2,127.8 L723.6,130.8 L724.6,134.0 L726.5,136.7 L724.3,137.2 L722.0,136.9 L719.9,137.9 L717.7,138.2 L714.7,139.2 L712.0,141.0 L713.7,143.1 L714.8,145.5 L717.0,146.6 L719.5,146.6 L722.0,146.7 L724.2,147.5 L726.5,148.4 L729.0,149.5 L731.0,151.3 L732.8,153.3 L735.3,154.3 L735.9,156.7 L737.0,158.9 L738.7,160.8 L739.7,163.0 L739.1,165.3 L738.8,167.7 L738.4,170.0 L737.9,172.4 L738.2,174.8 L737.1,176.9 L736.4,179.1 L736.2,181.5 L735.3,183.6 L734.9,186.6 L733.8,189.4 L735.4,187.9 L737.0,186.3 L739.1,185.2 L740.3,183.2 L742.1,181.8 L744.0,180.6 L747.1,180.2 L750.0,179.2 L752.5,181.0 L754.3,183.6 L755.4,185.8 L756.1,188.1 L756.7,190.5 L757.2,192.8 L757.3,195.3 L757.3,197.7 L758.1,199.9 L758.6,202.3 L758.4,204.7 L758.7,207.0 L758.1,209.3 L757.8,211.6 L757.0,213.8 L755.8,215.8 L755.4,218.1 L754.4,220.2 L754.1,222.5 L752.9,224.6 L751.9,226.8 L750.7,229.0 L749.1,231.0 L748.5,233.4 L750.9,234.0 L753.4,234.1 L755.8,234.8 L758.7,233.8 L761.7,233.4 L763.9,232.5 L766.1,232.2 L768.5,232.4 L770.8,231.9 L772.9,230.8 L774.5,229.2 L776.7,228.5 L778.6,227.4 L780.6,226.3 L782.3,224.9 L784.0,223.6 L785.8,222.2 L787.4,220.6 L789.3,219.5 L791.6,219.0 L793.4,217.7 L795.3,216.4 L796.7,214.7 L798.7,213.6 L800.7,212.1 L802.5,210.3 L804.0,208.2 L805.7,206.3 L807.6,204.6 L809.4,202.9 L811.3,201.3 L812.8,199.2 L814.7,197.6 L817.0,196.4 L817.0,193.1 L815.9,190.0 L813.6,188.2 L815.7,186.0 L818.0,184.0 L820.5,183.5 L823.0,183.4 L825.5,182.9 L828.0,182.8 L830.5,182.2 L833.0,181.8 L835.0,180.6 L837.1,180.0 L839.4,179.7 L841.5,179.2 L843.9,179.3 L845.9,178.1 L848.0,177.5 L848.7,175.2 L850.5,173.4 L851.0,171.0 L852.3,169.0 L852.2,166.1 L852.5,163.2 L852.3,160.3 L853.6,158.3 L854.2,155.9 L855.4,153.8 L856.6,151.7 L856.9,149.3 L858.8,147.6 L859.7,145.5 L860.5,143.3 L861.0,141.0 L862.9,139.4 L865.3,138.5 L867.3,137.0 L869.3,135.4 L871.6,134.5 L873.6,133.4 L876.1,133.3 L878.1,132.2 L880.2,131.4 L882.2,130.0 L884.5,129.7 L886.8,129.3 L888.8,128.0 L890.9,127.1 L893.0,126.6 L895.4,126.9 L897.3,125.6 L899.5,125.3 L901.8,125.3 L903.9,124.6 L906.0,123.8 L908.4,123.1 L910.9,122.7 L913.3,122.1 L915.7,121.4 L918.3,121.5 L920.7,121.0 L921.3,117.9 L922.7,115.1 L924.7,114.0 L927.0,113.9 L928.8,112.3 L931.1,111.9 L931.4,109.3 L932.2,106.9 L933.7,104.7 L934.3,102.2 L934.4,99.5 L934.9,97.0 L935.6,94.4 L935.0,91.8 L934.3,89.2 L934.9,86.7 L935.5,84.1 L934.8,81.4 L935.6,78.9 L936.3,76.6 L936.7,74.2 L937.9,72.0 L938.9,69.8 L939.9,67.3 L940.3,64.5 L941.2,62.0 L942.1,59.4 L946.0,59.4 L947.9,63.3 L949.6,61.8 L951.9,61.2 L953.6,59.7 L955.5,58.5 L957.0,56.8 L959.6,57.6 L962.2,58.1 L964.2,59.8 L966.7,60.7 L967.4,63.0 L968.8,65.1 L969.6,67.4 L970.0,69.8 L970.2,72.4 L971.4,74.6 L971.9,77.1 L972.8,79.4 L973.2,81.9 L974.7,84.1 L975.1,86.6 L976.1,88.8 L976.4,91.2 L979.0,90.9 L981.6,91.2 L982.2,93.7 L983.2,96.0 L984.2,98.3 L986.8,99.0 L989.4,99.6 L991.0,101.3 L992.1,103.4 L993.3,105.4 L992.2,107.8 L990.7,110.0 L988.8,112.1 L986.0,113.0 L984.2,115.1 L982.0,115.7 L980.0,117.0 L977.7,120.3 L975.7,121.8 L974.3,123.9 L972.5,125.5 L970.3,127.2 L968.7,129.4 L966.5,131.1 L964.8,133.3 L963.1,136.0 L960.9,138.4 L958.7,139.1 L956.9,140.4 L955.5,142.3 L953.3,143.0 L952.3,145.5 L950.8,147.7 L949.0,149.6 L948.8,152.3 L949.4,154.9 L949.4,157.6 L949.0,160.3 L949.2,163.3 L948.4,166.1 L948.0,169.0 L948.6,170.0 L948.3,173.0 L947.6,175.9 L949.5,177.4 L951.5,178.8 L953.7,180.5 L955.4,182.7 L958.0,183.0 L960.0,180.0 L964.2,179.5 L966.0,182.2 L968.1,184.6 L967.1,188.0 L964.7,188.4 L962.3,189.0 L958.4,190.5 L956.4,191.5 L953.5,193.1 L950.5,194.4 L948.2,195.4 L946.6,197.3 L944.6,198.7 L942.7,200.3 L939.8,201.2 L936.9,202.2 L935.1,203.5 L933.1,204.4 L931.0,205.2 L927.1,207.1 L925.0,209.0 L922.5,210.5 L920.4,212.5 L918.0,214.0 L916.9,216.3 L915.1,218.1 L913.5,220.0 L912.0,222.0 L911.0,224.2 L909.6,226.2 L908.0,228.0 L908.3,230.4 L909.5,232.5 L909.6,235.5 L910.5,238.4 L909.3,241.6 L909.1,244.3 L908.4,246.9 L908.3,249.6 L908.2,252.3 L907.5,254.6 L906.0,256.6 L905.5,259.0 L904.0,260.9 L902.4,263.0 L901.0,265.1 L899.6,267.3 L897.4,266.2 L895.9,264.4 L894.0,263.0 L891.4,262.8 L889.0,262.0 L890.2,264.1 L891.2,266.3 L893.0,268.0 L894.7,270.3 L897.4,271.6 L899.0,274.0 L899.5,276.5 L900.1,279.0 L900.2,281.6 L901.3,284.0 L900.7,286.3 L900.0,288.6 L898.8,290.7 L897.8,292.9 L897.1,295.1 L895.7,297.1 L894.7,299.3 L894.3,301.6 L893.7,303.8 L893.1,305.9 L893.0,308.2 L892.5,310.4 L892.8,312.8 L892.6,315.1 L892.5,317.5 L894.1,320.0 L896.2,322.0 L897.8,324.5 L898.8,326.9 L900.4,328.9 L902.0,330.9 L903.0,333.3 L904.2,335.6 L905.0,338.2 L906.6,340.3 L907.3,342.6 L907.9,344.9 L908.3,347.3 L907.4,349.9 L906.6,352.6 L903.0,350.9 L900.9,352.3 L899.5,354.4 L896.0,356.1 L892.5,358.0 L890.7,359.3 L889.1,360.9 L887.9,362.9 L886.0,364.1 L884.4,365.6 L883.1,367.4 L881.3,368.8 L880.1,370.7 L877.8,371.6 L876.4,373.3 L875.0,375.0 L873.5,376.7 L872.0,378.4 L870.7,380.3 L869.7,382.4 L868.1,384.0 L867.2,386.2 L865.3,387.6 L864.2,389.6 L862.7,391.3 L861.0,392.9 L860.0,395.0 L859.0,397.0 L857.9,399.0 L856.1,400.5 L855.4,402.8 L853.6,404.3 L852.4,406.2 L851.9,408.6 L850.3,410.2 L849.2,412.2 L847.1,413.6 L845.6,415.6 L843.8,417.4 L842.5,419.5 L840.4,421.0 L838.7,422.8 L836.7,424.3 L835.6,426.7 L833.3,427.9 L831.7,429.8 L830.4,432.1 L829.0,434.3 L826.9,436.2 L825.8,438.6 L825.1,440.8 L824.1,442.8 L822.8,444.7 L822.7,447.1 L821.1,448.9 L821.0,451.3 L820.0,453.3 L819.6,455.7 L820.0,458.2 L818.7,460.5 L819.0,463.0 L818.8,465.5 L818.5,467.9 L818.2,470.3 L819.2,472.6 L820.0,474.8 L819.9,477.2 L820.0,479.6 L821.7,481.7 L822.8,484.0 L823.1,486.8 L824.3,489.1 L825.8,491.3 L826.7,493.8 L828.0,496.1 L829.5,498.3 L830.4,500.7 L831.7,503.0 L833.3,505.1 L834.5,507.5 L835.8,509.8 L837.5,511.8 L839.1,513.6 L840.7,515.3 L842.1,517.2 L843.4,519.2 L844.7,521.3 L844.8,523.9 L845.9,526.1 L847.4,528.1 L848.6,530.3 L849.1,532.7 L850.0,535.0 L849.9,537.3 L850.6,539.5 L850.2,541.8 L850.9,544.1 L851.3,546.3 L850.7,548.7 L851.0,550.9 L851.6,553.2 L851.4,555.5 L852.0,557.7 L852.0,560.0 L850.5,561.8 L849.4,563.9 L848.3,566.0 L847.4,568.1 L845.9,569.9 L845.1,572.2 L843.1,573.7 L842.3,576.0 L840.9,577.8 L840.0,580.0 L837.7,579.8 L835.6,579.0 L833.5,578.0 L831.3,577.5 L829.2,576.6 L827.2,575.6 L825.0,575.0 L824.0,572.8 L822.1,571.2 L821.4,568.9 L819.6,567.2 L818.9,564.8 L817.8,562.7 L816.4,560.8 L814.7,559.0 L813.5,557.0 L812.6,554.8 L811.1,552.9 L810.0,549.8 L808.2,547.0 L806.4,545.5 L805.1,543.5 L804.2,541.2 L802.4,539.7 L801.7,537.1 L800.1,535.0 L799.4,532.4 L798.8,530.0 L798.4,527.6 L798.4,525.1 L798.9,522.6 L798.3,520.1 L798.0,517.7 L796.5,515.7 L795.4,513.5 L794.3,511.3 L793.6,508.9 L791.3,507.5 L789.0,506.3 L786.7,504.9 L784.8,503.0 L782.6,501.5 L780.2,500.4 L777.9,499.1 L776.0,497.2 L773.7,497.4 L771.7,496.1 L769.4,495.9 L767.2,495.7 L765.1,497.1 L762.3,496.9 L760.0,497.9 L758.0,499.8 L755.5,500.1 L753.2,500.4 L751.3,502.1 L749.0,502.6 L746.7,503.0 L744.3,502.3 L742.3,500.8 L740.2,499.6 L737.9,498.7 L735.4,497.8 L733.3,496.2 L731.0,494.9 L728.3,494.4 L726.2,492.8 L723.8,492.9 L721.6,491.9 L719.1,492.5 L716.8,491.8 L714.5,491.3 L712.2,491.9 L709.8,491.8 L707.5,492.8 L705.1,493.1 L702.7,492.8 L700.3,493.3 L698.0,493.7 L695.8,495.1 L693.3,495.0 L691.0,495.7 L688.7,496.3 L686.3,495.9 L684.0,496.4 L681.6,496.7 L679.3,497.2 L677.0,498.1 L674.6,498.4 L672.1,498.4 L669.9,499.5 L667.6,500.1 L665.4,500.9 L663.3,501.7 L661.3,503.0 L664.3,504.3 L667.1,506.0 L668.5,508.2 L669.0,510.9 L670.4,513.1 L672.2,515.2 L673.0,517.7 L671.6,519.7 L670.5,521.9 L668.8,523.7 L667.5,525.8 L666.0,527.7 L665.0,530.0 L662.7,529.9 L660.5,530.4 L658.2,530.0 L655.9,530.5 L653.6,530.0 L651.4,530.1 L649.1,530.2 L646.8,530.3 L644.5,530.4 L642.3,530.3 L640.0,530.0 L638.3,528.5 L636.1,527.6 L634.5,525.9 L633.1,524.1 L631.2,522.7 L629.3,521.6 L627.3,520.4 L625.5,519.0 L623.6,517.7 L622.1,516.0 L620.0,515.0 L617.4,515.3 L614.8,515.9 L612.2,515.1 L609.6,516.1 L607.0,516.0 L605.2,517.0 L602.7,516.1 L600.0,515.6 L597.3,515.9 L594.7,515.2 L592.4,515.5 L590.0,514.8 L587.7,514.7 L585.3,515.2 L583.0,515.7 L580.6,515.2 L578.3,515.5 L575.9,515.3 L573.6,516.3 L571.2,516.2 L568.9,516.2 L566.6,517.0 L564.3,518.0 L562.0,519.0 L559.5,522.2 L557.9,524.1 L555.9,525.6 L554.5,527.7 L552.3,529.0 L550.8,531.0 L548.9,532.3 L546.6,532.7 L544.7,534.0 L542.9,535.3 L540.5,535.6 L538.5,536.5 L536.7,538.0 L534.9,539.8 L532.7,541.1 L530.3,542.0 L528.8,544.2 L526.3,545.1 L524.4,546.8 L523.1,549.0 L521.5,550.9 L520.2,553.0 L519.0,555.3 L517.1,557.0 L515.6,559.0 L514.4,561.1 L514.4,563.7 L513.1,565.8 L513.0,568.3 L511.4,570.3 L511.6,572.9 L510.3,575.0 L511.0,577.5 L511.4,580.2 L511.4,582.8 L512.0,585.4 L512.7,587.9 L513.2,590.4 L514.1,592.9 L514.5,595.4 L515.6,597.8 L513.8,601.2 L511.4,601.0 L509.1,600.4 L506.8,599.5 L504.5,598.9 L502.2,598.0 L499.8,597.8 L497.3,597.1 L495.0,595.9 L492.3,595.9 L490.1,594.5 L487.5,594.2 L485.4,592.8 L483.4,591.2 L481.5,589.5 L479.3,588.2 L476.9,587.2 L476.2,584.9 L475.0,582.9 L473.6,581.0 L472.9,578.7 L471.6,576.7 L471.2,574.5 L470.6,572.4 L469.6,570.4 L469.9,568.0 L469.3,565.9 L468.9,563.7 L467.9,561.7 L466.9,559.6 L465.8,557.6 L465.0,555.4 L464.4,553.1 L462.8,551.3 L461.8,549.2 L461.2,547.0 L460.0,545.0 L459.0,542.8 L457.3,541.3 L456.0,539.4 L454.2,537.9 L452.5,536.4 L451.8,534.0 L450.0,532.5 L448.7,530.6 L446.9,529.1 L446.0,526.9 L444.0,525.6 L442.9,523.5 L441.8,521.5 L440.0,520.0 L438.5,518.3 L436.3,517.5 L435.2,515.3 L433.6,513.7 L431.9,512.3 L429.7,511.4 L427.8,510.2 L426.6,508.2 L425.0,506.6 L423.2,505.3 L421.2,508.0 L418.6,510.0 L416.3,510.8 L414.1,512.0 L411.6,512.3 L409.9,513.9 L407.5,514.2 L405.8,515.8 L404.5,518.1 L403.7,520.6 L402.3,522.8 L400.0,526.2 L396.4,527.4 L394.5,526.2 L392.3,525.4 L390.6,523.9 L388.6,522.5 L386.9,520.6 L384.8,519.3 L382.7,517.9 L380.6,516.5 L379.0,514.6 L377.0,511.9 L374.3,510.0 L372.2,507.9 L370.8,505.3 L370.3,502.3 L369.6,499.4 L369.0,496.5 L368.5,493.6 L367.9,491.3 L367.3,489.0 L365.8,486.5 L363.8,484.3 L361.7,482.6 L359.9,480.5 L358.0,478.5 L356.3,477.1 L354.8,475.4 L353.3,473.8 L351.7,471.9 L349.8,470.3 L347.4,468.0 L345.2,465.6 L344.3,463.5 L343.0,461.6 L341.7,459.8 L340.7,457.4 L339.3,455.2 L337.0,455.9 L334.7,456.6 L332.3,456.8 L330.0,457.5 L325.8,457.6 L323.5,457.4 L321.2,457.6 L318.9,457.0 L316.6,458.0 L314.3,457.6 L312.0,457.0 L309.7,457.6 L309.5,460.1 L308.4,462.5 L308.2,465.0 L306.0,464.5 L303.9,464.0 L301.6,464.4 L299.4,464.2 L297.2,463.5 L295.0,463.2 L292.8,463.1 L290.6,463.0 L288.3,463.2 L286.2,462.5 L284.0,462.4 L281.8,462.0 L279.7,461.3 L277.5,460.7 L275.2,460.9 L273.1,460.1 L270.8,460.3 L268.6,459.9 L266.5,459.2 L264.2,459.4 L262.1,458.7 L259.8,458.9 L257.7,458.1 L255.5,457.6 L253.9,456.0 L252.2,454.6 L249.9,454.1 L248.3,452.5 L246.4,451.3 L244.3,450.5 L242.5,449.1 L241.0,447.4 L238.9,446.7 L237.5,444.7 L235.7,443.4 L233.5,442.7 L231.5,441.7 L230.0,440.0 L227.8,439.2 L226.0,437.9 L224.6,435.9 L222.6,434.9 L220.9,433.3 L218.8,432.4 L217.1,431.0 L215.0,430.1 L213.2,428.6 L211.5,427.1 L209.1,426.6 L207.2,425.4 L205.3,424.2 L203.7,422.6 L201.7,421.5 L200.0,420.0 L197.9,419.2 L196.0,418.0 L194.0,416.8 L192.0,415.8 L189.9,415.0 L188.0,413.7 L185.8,413.0 L183.5,413.6 L181.3,412.6 L179.1,412.4 L176.8,413.0 L174.6,412.3 L172.4,411.4 L170.1,411.6 L167.8,411.9 L165.7,410.8 L163.4,411.3 L161.2,410.6 L159.0,410.0 L156.6,410.7 L154.5,409.2 L152.2,410.1 L150.0,409.3 L147.8,410.0 L145.5,409.5 L142.5,408.0 L142.2,405.7 L141.9,403.3 L142.7,401.0 L142.4,398.6 L142.5,396.3 L141.4,394.0 L140.3,391.6 L138.6,389.5 L137.7,387.0 L136.7,384.6 L135.3,382.5 L133.5,380.8 L131.5,379.3 L129.7,377.6 L128.0,375.8 L126.5,373.8 L124.7,371.9 L122.2,370.9 L120.7,368.8 L119.0,367.0 L117.4,365.1 L115.3,363.8 L113.3,362.5 L111.4,361.0 L109.0,360.1 L107.4,358.2 L105.6,356.5 L103.5,355.2 L101.2,354.2 L99.3,352.7 L97.4,351.1 L95.7,349.4 L95.0,347.0 L94.4,344.6 L94.4,342.1 L93.9,339.6 L93.6,337.2 L92.7,334.8 L92.2,332.4 L91.7,330.1 L91.0,327.7 L90.6,325.3 L89.8,323.0 L88.9,320.5 L87.0,318.5 L86.6,315.8 L85.7,313.4 L84.0,311.3 L83.8,308.7 L82.3,306.5 L81.5,304.1 L81.6,301.4 L80.7,299.0 L79.6,296.7 L79.5,294.4 L80.3,292.4 L80.8,290.2 L81.0,288.0 L79.4,286.0 L79.3,283.3 L77.4,281.4 L76.6,279.0 L76.8,276.5 L75.8,274.2 L75.3,271.8 L75.3,269.4 L74.9,267.0 L75.2,264.5 L74.2,262.0 L72.9,259.7 L71.4,257.6 L70.8,254.9 L69.3,252.7 L68.8,250.3 L68.6,247.8 L68.2,245.4 L68.4,242.9 L68.6,240.4 L67.8,238.0 L67.9,235.6 L67.6,233.3 L67.4,230.9 L66.9,228.6 L66.4,226.3 L65.9,223.8 L66.1,221.3 L65.8,218.8 L65.8,216.3 L65.6,213.8 L65.2,211.5 L64.8,209.1 L65.4,206.7 L64.8,204.4 L66.0,202.1 L66.9,199.7 L67.8,197.3 L68.8,195.0 L69.6,192.5 L71.1,190.3 L71.8,187.7 L73.4,185.6 L73.8,183.4 L74.2,181.2 L74.8,179.1 L75.5,176.9 L75.8,174.7 L75.6,171.9 L75.7,169.2 L76.0,166.5 L76.6,163.8 L76.6,161.3 L77.4,158.8 L77.1,156.3 L77.7,153.8 L78.1,151.3 L78.8,148.7 L80.8,146.8 L82.0,144.5 L82.8,141.9 L84.4,139.8 L85.5,137.4 L85.9,134.6 L87.5,132.5 L88.7,130.6 L89.8,128.6 L91.1,126.8 L92.6,125.0 L93.8,123.1 L95.2,121.1 L96.2,118.9 L96.5,116.4 L98.1,114.5 L99.4,112.4 L100.0,110.0 L100.8,107.8 L101.0,105.5 L102.3,103.4 L102.2,101.0 L103.0,98.8 L103.4,96.5 L104.5,94.4 L105.3,92.2 L106.0,90.0 L106.8,87.8 L106.8,85.4 L107.2,83.1 L108.3,81.0 L108.4,78.6 L109.7,76.5 L110.1,74.2 L110.4,71.9 L111.2,69.7 L111.2,67.3 L112.4,65.1 L112.9,62.9 L113.4,60.6 L113.2,57.4 L111.9,54.4 L112.3,52.2 L112.1,50.0 L110.9,47.8 L110.9,45.6 L111.1,43.4 L111.4,40.7 L111.1,38.1 L110.3,35.6 L111.4,33.4 L111.6,31.0 Z" fill="none" stroke="#5f5f5f" stroke-width="1.6" stroke-linejoin="round"/>
<path d="M911.5,228.6 L915.4,226.2 L919.3,223.7 L924.2,220.8 L929.0,217.9 L935.0,214.0 L938.8,211.0 L939.8,208.6 L934.0,208.6 L929.0,211.0 L923.2,214.0 L918.0,218.0 L912.0,223.0 Z" fill="#b7b683" stroke="#5a5a5a" stroke-width="1.2"/>
<ellipse cx="957.4" cy="195.4" rx="2.6" ry="1.8" fill="#777"/><ellipse cx="967.1" cy="196.4" rx="2.4" ry="1.6" fill="#777"/><circle cx="943.7" cy="205.2" r="1" fill="#777"/>
<circle cx="835" cy="602.5" r="1.2" fill="#777"/><circle cx="839" cy="601.5" r="1" fill="#777"/><circle cx="846.3" cy="601.2" r="1.1" fill="#777"/>
<text class="lb" x="241" y="179.5" textLength="45" lengthAdjust="spacingAndGlyphs">Columbia-</text>
<text class="lb" x="241" y="191.8" textLength="26.5" lengthAdjust="spacingAndGlyphs">Snake</text>
<text class="lb" x="128.1" y="226.5" textLength="45" lengthAdjust="spacingAndGlyphs">California-</text>
<text class="lb" x="129.4" y="240" textLength="32.3" lengthAdjust="spacingAndGlyphs">Nevada</text>
<text class="lb" x="319.8" y="242" textLength="30.2" lengthAdjust="spacingAndGlyphs">Central</text>
<text class="lb" x="319.8" y="254.7" textLength="33.3" lengthAdjust="spacingAndGlyphs">Rockies</text>
<text class="lb" x="365" y="173.7" textLength="36.4" lengthAdjust="spacingAndGlyphs">Northern</text>
<text class="lb" x="366" y="186" textLength="47.3" lengthAdjust="spacingAndGlyphs">High Plains</text>
<text class="lb" x="388.5" y="258.2" textLength="30.2" lengthAdjust="spacingAndGlyphs">Central</text>
<text class="lb" x="388.5" y="271.7" textLength="19.2" lengthAdjust="spacingAndGlyphs">High</text>
<text class="lb" x="389.4" y="283.4" textLength="25.5" lengthAdjust="spacingAndGlyphs">Plains</text>
<text class="lb" x="478" y="314.7" textLength="38.0" lengthAdjust="spacingAndGlyphs">Southern</text>
<text class="lb" x="478.7" y="326.4" textLength="47.3" lengthAdjust="spacingAndGlyphs">High Plains</text>
<text class="lb" x="519" y="155.2" textLength="29.6" lengthAdjust="spacingAndGlyphs">Souris-</text>
<text class="lb" x="519" y="168.4" textLength="20.3" lengthAdjust="spacingAndGlyphs">Red-</text>
<text class="lb" x="519.7" y="181" textLength="23.9" lengthAdjust="spacingAndGlyphs">Rainy</text>
<text class="lb" x="619.6" y="167.9" textLength="51.0" lengthAdjust="spacingAndGlyphs">Great Lakes</text>
<text class="lb" x="918.5" y="145.4" textLength="40.6" lengthAdjust="spacingAndGlyphs">Northeast</text>
<text class="lb" x="693" y="263.4" textLength="34.3" lengthAdjust="spacingAndGlyphs">Midwest</text>
<text class="lb" x="600" y="327.9" textLength="48.4" lengthAdjust="spacingAndGlyphs">Tennessee-</text>
<text class="lb" x="601.5" y="339.6" textLength="34.8" lengthAdjust="spacingAndGlyphs">Missouri</text>
<text class="lb" x="847.7" y="345.1" textLength="30.7" lengthAdjust="spacingAndGlyphs">Atlantic</text>
<text class="lb" x="849.4" y="356.9" textLength="24.5" lengthAdjust="spacingAndGlyphs">Coast</text>
<text class="lb" x="320" y="427.9" textLength="74" lengthAdjust="spacingAndGlyphs">Southwest Desert</text>
<text class="lb" x="456.2" y="474.8" textLength="24.5" lengthAdjust="spacingAndGlyphs">Texas</text>
<text class="lb" x="560.8" y="454.6" textLength="17.2" lengthAdjust="spacingAndGlyphs">Gulf</text>
<text class="lb" x="562.2" y="467.5" textLength="24.5" lengthAdjust="spacingAndGlyphs">Coast</text>
<text class="lb" x="593.9" y="488.9" textLength="45.2" lengthAdjust="spacingAndGlyphs">Mississippi</text>
<text class="lb" x="594.8" y="501.5" textLength="49.9" lengthAdjust="spacingAndGlyphs">Embayment</text>
<text class="lb" transform="translate(97,163) rotate(-66.5)" x="0" y="3.4" textLength="76" lengthAdjust="spacingAndGlyphs">Pacific Northwest</text>
<text class="lb" transform="translate(805.3,506) rotate(51)" x="0" y="3.4" textLength="28.6" lengthAdjust="spacingAndGlyphs">Florida</text>
<path d="M80,84 L80,45.2 A38.8,38.8 0 0 0 41.2,84 Z" fill="#fbf7c0"/><path d="M80,84 L118.8,84 A38.8,38.8 0 0 0 80,45.2 Z" fill="#2a7bbd"/><path d="M80,84 L41.2,84 A38.8,38.8 0 0 0 80,122.8 Z" fill="#2a7bbd"/><path d="M80,84 L80,122.8 A38.8,38.8 0 0 0 118.8,84 Z" fill="#fbf7c0"/><path d="M41.2,84H118.8M80,45.2V122.8" stroke="#2b2b2b" stroke-width="1.6"/><circle cx="80" cy="84" r="38.8" fill="none" stroke="#2b2b2b" stroke-width="1.8"/>
<path d="M210.2,121 L210.2,82.2 A38.8,38.8 0 0 0 171.4,121 Z" fill="#fbf7c0"/><path d="M210.2,121 L249.0,121 A38.8,38.8 0 0 0 210.2,82.2 Z" fill="#2a7bbd"/><path d="M210.2,121 L171.4,121 A38.8,38.8 0 0 0 210.2,159.8 Z" fill="#fbf7c0"/><path d="M210.2,121 L210.2,159.8 A38.8,38.8 0 0 0 249.0,121 Z" fill="#abd8ea"/><path d="M171.4,121H249.0M210.2,82.2V159.8" stroke="#2b2b2b" stroke-width="1.6"/><circle cx="210.2" cy="121" r="38.8" fill="none" stroke="#2b2b2b" stroke-width="1.8"/>
<path d="M372.7,111.1 L372.7,72.3 A38.8,38.8 0 0 0 333.9,111.1 Z" fill="#7b1111"/><path d="M372.7,111.1 L411.5,111.1 A38.8,38.8 0 0 0 372.7,72.3 Z" fill="#fbf7c0"/><path d="M372.7,111.1 L333.9,111.1 A38.8,38.8 0 0 0 372.7,149.9 Z" fill="#abd8ea"/><path d="M372.7,111.1 L372.7,149.9 A38.8,38.8 0 0 0 411.5,111.1 Z" fill="#abd8ea"/><path d="M333.9,111.1H411.5M372.7,72.3V149.9" stroke="#2b2b2b" stroke-width="1.6"/><circle cx="372.7" cy="111.1" r="38.8" fill="none" stroke="#2b2b2b" stroke-width="1.8"/>
<path d="M514.5,71.5 L514.5,32.7 A38.8,38.8 0 0 0 475.7,71.5 Z" fill="#7b1111"/><path d="M514.5,71.5 L553.3,71.5 A38.8,38.8 0 0 0 514.5,32.7 Z" fill="#fbf7c0"/><path d="M514.5,71.5 L475.7,71.5 A38.8,38.8 0 0 0 514.5,110.3 Z" fill="#fbf7c0"/><path d="M514.5,71.5 L514.5,110.3 A38.8,38.8 0 0 0 553.3,71.5 Z" fill="#2a7bbd"/><path d="M475.7,71.5H553.3M514.5,32.7V110.3" stroke="#2b2b2b" stroke-width="1.6"/><circle cx="514.5" cy="71.5" r="38.8" fill="none" stroke="#2b2b2b" stroke-width="1.8"/>
<path d="M675.2,133.2 L675.2,94.4 A38.8,38.8 0 0 0 636.4,133.2 Z" fill="#abd8ea"/><path d="M675.2,133.2 L714.0,133.2 A38.8,38.8 0 0 0 675.2,94.4 Z" fill="#2a7bbd"/><path d="M675.2,133.2 L636.4,133.2 A38.8,38.8 0 0 0 675.2,172.0 Z" fill="#fbf7c0"/><path d="M675.2,133.2 L675.2,172.0 A38.8,38.8 0 0 0 714.0,133.2 Z" fill="#abd8ea"/><path d="M636.4,133.2H714.0M675.2,94.4V172.0" stroke="#2b2b2b" stroke-width="1.6"/><circle cx="675.2" cy="133.2" r="38.8" fill="none" stroke="#2b2b2b" stroke-width="1.8"/>
<path d="M888.2,193.2 L888.2,154.4 A38.8,38.8 0 0 0 849.4,193.2 Z" fill="#fbf7c0"/><path d="M888.2,193.2 L927.0,193.2 A38.8,38.8 0 0 0 888.2,154.4 Z" fill="#2a7bbd"/><path d="M888.2,193.2 L849.4,193.2 A38.8,38.8 0 0 0 888.2,232.0 Z" fill="#fbf7c0"/><path d="M888.2,193.2 L888.2,232.0 A38.8,38.8 0 0 0 927.0,193.2 Z" fill="#7b1111"/><path d="M849.4,193.2H927.0M888.2,154.4V232.0" stroke="#2b2b2b" stroke-width="1.6"/><circle cx="888.2" cy="193.2" r="38.8" fill="none" stroke="#2b2b2b" stroke-width="1.8"/>
<path d="M163,284.1 L163,245.3 A38.8,38.8 0 0 0 124.2,284.1 Z" fill="#f38a3b"/><path d="M163,284.1 L201.8,284.1 A38.8,38.8 0 0 0 163,245.3 Z" fill="#f38a3b"/><path d="M163,284.1 L124.2,284.1 A38.8,38.8 0 0 0 163,322.9 Z" fill="#f38a3b"/><path d="M163,284.1 L163,322.9 A38.8,38.8 0 0 0 201.8,284.1 Z" fill="#f38a3b"/><path d="M124.2,284.1H201.8M163,245.3V322.9" stroke="#2b2b2b" stroke-width="1.6"/><circle cx="163" cy="284.1" r="38.8" fill="none" stroke="#2b2b2b" stroke-width="1.8"/>
<path d="M323,305.5 L323,266.7 A38.8,38.8 0 0 0 284.2,305.5 Z" fill="#f38a3b"/><path d="M323,305.5 L361.8,305.5 A38.8,38.8 0 0 0 323,266.7 Z" fill="#fbf7c0"/><path d="M323,305.5 L284.2,305.5 A38.8,38.8 0 0 0 323,344.3 Z" fill="#abd8ea"/><path d="M323,305.5 L323,344.3 A38.8,38.8 0 0 0 361.8,305.5 Z" fill="#2a7bbd"/><path d="M284.2,305.5H361.8M323,266.7V344.3" stroke="#2b2b2b" stroke-width="1.6"/><circle cx="323" cy="305.5" r="38.8" fill="none" stroke="#2b2b2b" stroke-width="1.8"/>
<path d="M450.9,243.4 L450.9,204.6 A38.8,38.8 0 0 0 412.1,243.4 Z" fill="#7b1111"/><path d="M450.9,243.4 L489.7,243.4 A38.8,38.8 0 0 0 450.9,204.6 Z" fill="#7b1111"/><path d="M450.9,243.4 L412.1,243.4 A38.8,38.8 0 0 0 450.9,282.2 Z" fill="#f38a3b"/><path d="M450.9,243.4 L450.9,282.2 A38.8,38.8 0 0 0 489.7,243.4 Z" fill="#7b1111"/><path d="M412.1,243.4H489.7M450.9,204.6V282.2" stroke="#2b2b2b" stroke-width="1.6"/><circle cx="450.9" cy="243.4" r="38.8" fill="none" stroke="#2b2b2b" stroke-width="1.8"/>
<path d="M606.8,255.1 L606.8,216.3 A38.8,38.8 0 0 0 568.0,255.1 Z" fill="#7b1111"/><path d="M606.8,255.1 L645.6,255.1 A38.8,38.8 0 0 0 606.8,216.3 Z" fill="#fbf7c0"/><path d="M606.8,255.1 L568.0,255.1 A38.8,38.8 0 0 0 606.8,293.9 Z" fill="#fbf7c0"/><path d="M606.8,255.1 L606.8,293.9 A38.8,38.8 0 0 0 645.6,255.1 Z" fill="#abd8ea"/><path d="M568.0,255.1H645.6M606.8,216.3V293.9" stroke="#2b2b2b" stroke-width="1.6"/><circle cx="606.8" cy="255.1" r="38.8" fill="none" stroke="#2b2b2b" stroke-width="1.8"/>
<path d="M467.6,372.9 L467.6,334.1 A38.8,38.8 0 0 0 428.8,372.9 Z" fill="#7b1111"/><path d="M467.6,372.9 L506.4,372.9 A38.8,38.8 0 0 0 467.6,334.1 Z" fill="#7b1111"/><path d="M467.6,372.9 L428.8,372.9 A38.8,38.8 0 0 0 467.6,411.7 Z" fill="#7b1111"/><path d="M467.6,372.9 L467.6,411.7 A38.8,38.8 0 0 0 506.4,372.9 Z" fill="#f38a3b"/><path d="M428.8,372.9H506.4M467.6,334.1V411.7" stroke="#2b2b2b" stroke-width="1.6"/><circle cx="467.6" cy="372.9" r="38.8" fill="none" stroke="#2b2b2b" stroke-width="1.8"/>
<path d="M740.1,345.6 L740.1,306.8 A38.8,38.8 0 0 0 701.3,345.6 Z" fill="#f38a3b"/><path d="M740.1,345.6 L778.9,345.6 A38.8,38.8 0 0 0 740.1,306.8 Z" fill="#abd8ea"/><path d="M740.1,345.6 L701.3,345.6 A38.8,38.8 0 0 0 740.1,384.4 Z" fill="#abd8ea"/><path d="M740.1,345.6 L740.1,384.4 A38.8,38.8 0 0 0 778.9,345.6 Z" fill="#fbf7c0"/><path d="M701.3,345.6H778.9M740.1,306.8V384.4" stroke="#2b2b2b" stroke-width="1.6"/><circle cx="740.1" cy="345.6" r="38.8" fill="none" stroke="#2b2b2b" stroke-width="1.8"/>
<path d="M227.9,426.9 L227.9,388.1 A38.8,38.8 0 0 0 189.1,426.9 Z" fill="#f38a3b"/><path d="M227.9,426.9 L266.7,426.9 A38.8,38.8 0 0 0 227.9,388.1 Z" fill="#f38a3b"/><path d="M227.9,426.9 L189.1,426.9 A38.8,38.8 0 0 0 227.9,465.7 Z" fill="#7b1111"/><path d="M227.9,426.9 L227.9,465.7 A38.8,38.8 0 0 0 266.7,426.9 Z" fill="#2a7bbd"/><path d="M189.1,426.9H266.7M227.9,388.1V465.7" stroke="#2b2b2b" stroke-width="1.6"/><circle cx="227.9" cy="426.9" r="38.8" fill="none" stroke="#2b2b2b" stroke-width="1.8"/>
<path d="M640.2,423.1 L640.2,384.3 A38.8,38.8 0 0 0 601.4,423.1 Z" fill="#f9aa62"/><path d="M640.2,423.1 L679.0,423.1 A38.8,38.8 0 0 0 640.2,384.3 Z" fill="#7b1111"/><path d="M640.2,423.1 L601.4,423.1 A38.8,38.8 0 0 0 640.2,461.9 Z" fill="#2a7bbd"/><path d="M640.2,423.1 L640.2,461.9 A38.8,38.8 0 0 0 679.0,423.1 Z" fill="#f9aa62"/><path d="M601.4,423.1H679.0M640.2,384.3V461.9" stroke="#2b2b2b" stroke-width="1.6"/><circle cx="640.2" cy="423.1" r="38.8" fill="none" stroke="#2b2b2b" stroke-width="1.8"/>
<path d="M888.2,398.2 L888.2,359.4 A38.8,38.8 0 0 0 849.4,398.2 Z" fill="#fbf7c0"/><path d="M888.2,398.2 L927.0,398.2 A38.8,38.8 0 0 0 888.2,359.4 Z" fill="#abd8ea"/><path d="M888.2,398.2 L849.4,398.2 A38.8,38.8 0 0 0 888.2,437.0 Z" fill="#abd8ea"/><path d="M888.2,398.2 L888.2,437.0 A38.8,38.8 0 0 0 927.0,398.2 Z" fill="#fbf7c0"/><path d="M849.4,398.2H927.0M888.2,359.4V437.0" stroke="#2b2b2b" stroke-width="1.6"/><circle cx="888.2" cy="398.2" r="38.8" fill="none" stroke="#2b2b2b" stroke-width="1.8"/>
<path d="M459.7,522.7 L459.7,483.9 A38.8,38.8 0 0 0 420.9,522.7 Z" fill="#abd8ea"/><path d="M459.7,522.7 L498.5,522.7 A38.8,38.8 0 0 0 459.7,483.9 Z" fill="#7b1111"/><path d="M459.7,522.7 L420.9,522.7 A38.8,38.8 0 0 0 459.7,561.5 Z" fill="#f38a3b"/><path d="M459.7,522.7 L459.7,561.5 A38.8,38.8 0 0 0 498.5,522.7 Z" fill="#7b1111"/><path d="M420.9,522.7H498.5M459.7,483.9V561.5" stroke="#2b2b2b" stroke-width="1.6"/><circle cx="459.7" cy="522.7" r="38.8" fill="none" stroke="#2b2b2b" stroke-width="1.8"/>
<path d="M640.2,547.6 L640.2,508.8 A38.8,38.8 0 0 0 601.4,547.6 Z" fill="#abd8ea"/><path d="M640.2,547.6 L679.0,547.6 A38.8,38.8 0 0 0 640.2,508.8 Z" fill="#fbf7c0"/><path d="M640.2,547.6 L601.4,547.6 A38.8,38.8 0 0 0 640.2,586.4 Z" fill="#2a7bbd"/><path d="M640.2,547.6 L640.2,586.4 A38.8,38.8 0 0 0 679.0,547.6 Z" fill="#f9aa62"/><path d="M601.4,547.6H679.0M640.2,508.8V586.4" stroke="#2b2b2b" stroke-width="1.6"/><circle cx="640.2" cy="547.6" r="38.8" fill="none" stroke="#2b2b2b" stroke-width="1.8"/>
<path d="M851,557.3 L851,518.5 A38.8,38.8 0 0 0 812.2,557.3 Z" fill="#2a7bbd"/><path d="M851,557.3 L889.8,557.3 A38.8,38.8 0 0 0 851,518.5 Z" fill="#f38a3b"/><path d="M851,557.3 L812.2,557.3 A38.8,38.8 0 0 0 851,596.1 Z" fill="#2a7bbd"/><path d="M851,557.3 L851,596.1 A38.8,38.8 0 0 0 889.8,557.3 Z" fill="#7b1111"/><path d="M812.2,557.3H889.8M851,518.5V596.1" stroke="#2b2b2b" stroke-width="1.6"/><circle cx="851" cy="557.3" r="38.8" fill="none" stroke="#2b2b2b" stroke-width="1.8"/>
<text class="lg" x="175.2" y="498" font-size="12.6" font-weight="bold" textLength="77.4" lengthAdjust="spacingAndGlyphs" fill="#3a3a3a">EXPLANATION</text>
<text class="lg" x="44.5" y="526" font-size="10.8" font-weight="bold" textLength="107.5" lengthAdjust="spacingAndGlyphs" fill="#3a3a3a">Aggregated hydrologic</text>
<text class="lg" x="59" y="540" font-size="10.8" font-weight="bold" textLength="102" lengthAdjust="spacingAndGlyphs" fill="#3a3a3a">regions and boundary</text>
<rect x="11" y="552" width="28" height="14" fill="#ddd1bc" stroke="#5a5a5a" stroke-width="1"/>
<rect x="11" y="572.7" width="28" height="14" fill="#b7b683" stroke="#5a5a5a" stroke-width="1"/>
<rect x="11" y="606.5" width="28" height="14" fill="#9b9b99" stroke="#5a5a5a" stroke-width="1"/>
<rect x="11" y="627" width="28" height="14" fill="#777777" stroke="#5a5a5a" stroke-width="1"/>
<text class="lg" x="52" y="562.5" font-size="10.8" textLength="51" lengthAdjust="spacingAndGlyphs" fill="#3a3a3a">High Plains</text>
<text class="lg" x="52" y="583.5" font-size="10.8" textLength="85" lengthAdjust="spacingAndGlyphs" fill="#3a3a3a">Northeast through</text>
<text class="lg" x="67" y="597" font-size="10.8" textLength="39" lengthAdjust="spacingAndGlyphs" fill="#3a3a3a">Midwest</text>
<text class="lg" x="52" y="618" font-size="10.8" textLength="46" lengthAdjust="spacingAndGlyphs" fill="#3a3a3a">Southeast</text>
<text class="lg" x="52" y="638" font-size="10.8" textLength="39" lengthAdjust="spacingAndGlyphs" fill="#3a3a3a">Western</text>
<line x1="11" y1="654" x2="39" y2="654" stroke="#d8d8d8" stroke-width="1.6"/>
<text class="lg" x="44.5" y="658" font-size="10.8" font-weight="bold" textLength="84.5" lengthAdjust="spacingAndGlyphs" fill="#3a3a3a">Hydrologic region</text>
<text class="lg" x="59" y="671.7" font-size="10.8" font-weight="bold" textLength="43" lengthAdjust="spacingAndGlyphs" fill="#3a3a3a">boundary</text>
<text class="lg" x="215.1" y="527" font-size="10.8" font-weight="bold" textLength="80.8" lengthAdjust="spacingAndGlyphs" fill="#3a3a3a">Increasing stress</text>
<line x1="213.9" y1="535.5" x2="362" y2="535.5" stroke="#111" stroke-width="2"/>
<path d="M359.2,529.3 L374.6,535.5 L359.2,541.7 Z" fill="#111"/>
<rect x="212.7" y="546.3" width="26.5" height="16.9" fill="#2a7bbd"/>
<rect x="246" y="546.3" width="25.8" height="16.9" fill="#abd8ea"/>
<rect x="280" y="546.3" width="26.5" height="16.9" fill="#fbf7c0"/>
<rect x="312.3" y="546.3" width="26.3" height="16.9" fill="#f38a3b"/>
<rect x="347.5" y="546.3" width="26.5" height="16.9" fill="#7b1111"/>
<circle cx="277.1" cy="626.4" r="38.8" fill="#fff" stroke="#2b2b2b" stroke-width="1.8"/>
<path d="M238.3,626.4H315.90000000000003M277.1,587.6V665.1999999999999" stroke="#2b2b2b" stroke-width="1.6"/>
<text class="lg" x="238.2" y="589.8" font-size="10.8" font-weight="bold" text-anchor="end" textLength="68" lengthAdjust="spacingAndGlyphs" fill="#3a3a3a">Surface-water</text>
<text class="lg" x="237.4" y="603" font-size="10.8" font-weight="bold" text-anchor="end" textLength="30.5" lengthAdjust="spacingAndGlyphs" fill="#3a3a3a">quality</text>
<text class="lg" x="235.4" y="649.2" font-size="10.8" font-weight="bold" text-anchor="end" textLength="61.4" lengthAdjust="spacingAndGlyphs" fill="#3a3a3a">Groundwater</text>
<text class="lg" x="235.4" y="662.7" font-size="10.8" font-weight="bold" text-anchor="end" textLength="31.5" lengthAdjust="spacingAndGlyphs" fill="#3a3a3a">quality</text>
<text class="lg" x="315.4" y="589.8" font-size="10.8" font-weight="bold" textLength="101.6" lengthAdjust="spacingAndGlyphs" fill="#3a3a3a">Surface water-supply</text>
<text class="lg" x="315.4" y="602.5" font-size="10.8" font-weight="bold" textLength="65.6" lengthAdjust="spacingAndGlyphs" fill="#3a3a3a">and use index</text>
<text class="lg" x="315.4" y="655" font-size="10.8" font-weight="bold" textLength="74.4" lengthAdjust="spacingAndGlyphs" fill="#3a3a3a">Ecological flow</text>
<text class="lg" x="315.4" y="668.5" font-size="10.8" font-weight="bold" textLength="50.3" lengthAdjust="spacingAndGlyphs" fill="#3a3a3a">alterations</text>
<text class="lg" x="9.9" y="699.6" font-size="13" font-weight="bold" textLength="52.6" lengthAdjust="spacingAndGlyphs" fill="#3a3a3a">Figure 11.</text>
<text class="lg" x="77.7" y="699.6" font-size="13" textLength="904.5" lengthAdjust="spacingAndGlyphs" fill="#3a3a3a">Assessment of relative stress on water availability in four different categories for each hydrologic region in the conterminous United States. Categories include the</text>
<text class="lg" x="9.9" y="717.3" font-size="13" textLength="972.7" lengthAdjust="spacingAndGlyphs" fill="#3a3a3a">water stress as supply-demand imbalance (surface water-supply and use index; Stets and others, 2025b); surface-water quality from model estimates of total nitrogen and total</text>
<text class="lg" x="9.9" y="735" font-size="13" textLength="955.1" lengthAdjust="spacingAndGlyphs" fill="#3a3a3a">phosphorus; groundwater quality from models of nitrate and arsenic (Lombard and others, 2021; Ransom and others, 2022); and percentage of river miles in each region with</text>
<text class="lg" x="9.9" y="752.7" font-size="13" textLength="309.5" lengthAdjust="spacingAndGlyphs" fill="#3a3a3a">ecological flow alterations, adapted from Carlisle (2019).</text>
<rect x="1015.5" y="0" width="8.5" height="772" fill="#55778d"/><rect x="1015.5" y="0" width="1" height="772" fill="#5b6c78"/>
</svg></body></html>
